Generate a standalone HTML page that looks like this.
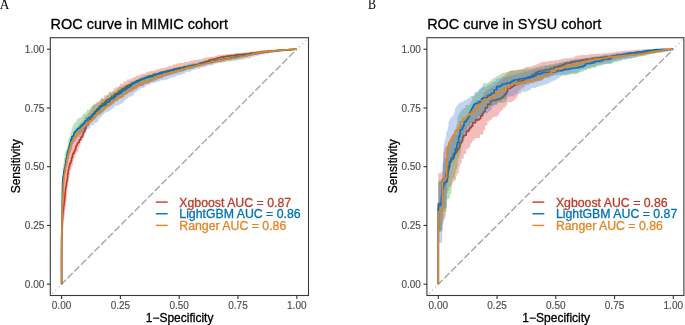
<!DOCTYPE html>
<html><head><meta charset="utf-8"><title>ROC curves</title><style>html,body{margin:0;padding:0;background:#fff;overflow:hidden}svg{display:block;will-change:transform}</style></head><body>
<svg width="685" height="325" viewBox="0 0 685 325">
<style>text{font-family:"Liberation Sans",sans-serif}.tk{font-size:10px;fill:#4d4d4d;stroke:#4d4d4d;stroke-width:0.15}.ti{font-size:14.45px;fill:#000;stroke:#000;stroke-width:0.3}.al{font-size:12px;fill:#000;stroke:#000;stroke-width:0.3}.lg{font-size:12.3px;stroke-width:0.3}.pl{font-family:"Liberation Serif",serif;font-size:13px;fill:#000}</style>
<rect width="685" height="325" fill="#fff"/>
<line x1="59.40" y1="286.40" x2="50.3" y2="295.5" stroke="#ababab" stroke-width="1.1" stroke-dasharray="1.1 3.4"/>
<line x1="299.00" y1="47.00" x2="308.5" y2="37.7" stroke="#ababab" stroke-width="1.1" stroke-dasharray="1.1 3.4"/>
<line x1="61.6" y1="284.2" x2="296.8" y2="49.19999999999999" stroke="#a6a6a6" stroke-width="1.4" stroke-dasharray="7.1 2.38" stroke-dashoffset="0.9"/>
<path d="M61.60,284.20 L61.59,282.20 L61.58,280.20 L61.57,278.20 L61.57,276.20 L61.56,274.20 L61.55,272.20 L61.54,270.20 L61.53,268.20 L61.53,266.20 L61.52,264.20 L61.51,262.20 L61.50,260.20 L61.50,258.20 L61.49,256.20 L61.49,254.20 L61.49,252.20 L61.49,250.20 L61.49,248.20 L61.49,246.20 L61.50,244.20 L61.50,242.20 L61.50,240.20 L61.53,238.20 L61.56,236.20 L61.58,234.20 L61.61,232.20 L61.64,230.20 L61.70,228.20 L61.75,226.20 L61.81,224.20 L61.87,222.20 L61.93,220.21 L62.00,218.21 L62.06,216.21 L62.12,214.21 L62.19,212.21 L62.25,210.21 L62.31,208.21 L62.38,206.21 L62.45,204.21 L62.52,202.22 L62.59,200.22 L62.67,198.22 L62.75,196.22 L62.83,194.22 L62.92,192.22 L63.00,190.22 L63.10,188.23 L63.20,186.23 L63.31,184.23 L63.45,182.24 L63.58,180.24 L63.76,180.24 L63.76,178.25 L63.76,176.26 L63.94,176.26 L64.13,176.26 L64.13,174.27 L64.13,172.28 L64.34,172.28 L64.34,170.29 L64.55,170.29 L64.79,170.29 L64.79,168.30 L64.79,166.32 L65.04,166.32 L65.04,164.34 L65.29,164.34 L65.29,162.36 L65.57,162.36 L65.57,160.37 L65.85,160.37 L66.16,160.37 L66.16,158.40 L66.16,156.42 L66.48,156.42 L66.48,154.46 L66.84,154.46 L66.84,152.49 L67.21,152.49 L67.21,150.54 L67.64,150.54 L68.09,150.54 L68.09,148.59 L68.63,148.59 L68.63,146.67 L68.63,144.76 L69.22,144.76 L69.85,144.76 L69.85,142.86 L69.85,140.98 L70.53,140.98 L71.25,140.98 L71.25,139.11 L71.25,137.26 L72.00,137.26 L72.83,137.26 L72.83,135.44 L72.83,133.64 L73.70,133.64 L74.69,133.64 L74.69,131.90 L75.77,131.90 L75.77,130.22 L75.77,128.57 L76.90,128.57 L76.90,126.93 L78.05,126.93 L78.05,125.32 L79.24,125.32 L79.24,123.73 L80.44,123.73 L80.44,122.14 L81.66,122.14 L82.86,122.14 L82.86,120.54 L84.05,120.54 L84.05,118.93 L84.05,117.26 L85.15,117.26 L85.15,115.59 L86.25,115.59 L87.33,115.59 L87.33,113.90 L88.43,113.90 L88.43,112.24 L89.58,112.24 L89.58,110.60 L90.82,110.60 L90.82,109.03 L92.11,109.03 L92.11,107.50 L92.11,106.05 L93.48,106.05 L93.48,104.62 L94.88,104.62 L96.30,104.62 L96.30,103.21 L96.30,101.85 L97.77,101.85 L99.30,101.85 L99.30,100.57 L100.84,100.57 L100.84,99.30 L100.84,98.02 L102.38,98.02 L103.93,98.02 L103.93,96.75 L103.93,95.49 L105.48,95.49 L107.05,95.49 L107.05,94.25 L108.63,94.25 L108.63,93.03 L108.63,91.84 L110.24,91.84 L111.88,91.84 L111.88,90.69 L113.52,90.69 L113.52,89.54 L113.52,88.39 L115.15,88.39 L115.15,87.21 L116.77,87.21 L118.38,87.21 L118.38,86.03 L120.00,86.03 L120.00,84.86 L120.00,83.74 L121.66,83.74 L123.34,83.74 L123.34,82.66 L123.34,81.61 L125.04,81.61 L126.77,81.61 L126.77,80.59 L126.77,79.61 L128.51,79.61 L130.27,79.61 L130.27,78.67 L132.06,78.67 L132.06,77.78 L133.89,77.78 L133.89,76.96 L135.74,76.96 L135.74,76.20 L135.74,75.49 L137.61,75.49 L139.50,75.49 L139.50,74.85 L141.42,74.85 L141.42,74.28 L141.42,73.70 L143.33,73.70 L145.25,73.70 L145.25,73.12 L145.25,72.50 L147.15,72.50 L147.15,71.87 L149.05,71.87 L149.05,71.25 L150.95,71.25 L150.95,70.65 L152.86,70.65 L154.77,70.65 L154.77,70.07 L154.77,69.55 L156.70,69.55 L158.63,69.55 L158.63,69.04 L160.58,69.04 L160.58,68.57 L160.58,68.09 L162.52,68.09 L164.46,68.09 L164.46,67.59 L166.39,67.59 L166.39,67.09 L168.31,67.09 L168.31,66.53 L168.31,65.96 L170.23,65.96 L172.14,65.96 L172.14,65.38 L172.14,64.82 L174.06,64.82 L174.06,64.28 L175.99,64.28 L175.99,63.78 L177.93,63.78 L177.93,63.32 L179.87,63.32 L179.87,62.89 L181.82,62.89 L183.78,62.89 L183.78,62.47 L183.78,62.07 L185.74,62.07 L187.70,62.07 L187.70,61.66 L189.66,61.66 L189.66,61.27 L189.66,60.87 L191.62,60.87 L191.62,60.48 L193.58,60.48 L193.58,60.10 L195.54,60.10 L197.50,60.10 L197.50,59.70 L197.50,59.30 L199.46,59.30 L201.42,59.30 L201.42,58.87 L201.42,58.44 L203.37,58.44 L203.37,58.01 L205.32,58.01 L205.32,57.58 L207.28,57.58 L207.28,57.16 L209.23,57.16 L209.23,56.77 L211.19,56.77 L213.16,56.77 L213.16,56.39 L215.12,56.39 L215.12,56.03 L217.09,56.03 L217.09,55.68 L217.09,55.36 L219.07,55.36 L219.07,55.04 L221.04,55.04 L221.04,54.74 L223.02,54.74 L225.00,54.74 L225.00,54.46 L225.00,54.18 L226.98,54.18 L228.96,54.18 L228.96,53.93 L230.95,53.93 L230.95,53.70 L230.95,53.48 L232.94,53.48 L234.93,53.48 L234.93,53.28 L234.93,53.09 L236.92,53.09 L238.91,53.09 L238.91,52.90 L240.90,52.90 L240.90,52.71 L242.89,52.71 L242.89,52.52 L244.88,52.52 L244.88,52.32 L244.88,52.13 L246.87,52.13 L248.86,52.13 L248.86,51.92 L248.86,51.69 L250.85,51.69 L250.85,51.45 L252.83,51.45 L252.83,51.19 L254.82,51.19 L256.80,51.19 L256.80,50.94 L258.79,50.94 L258.79,50.73 L260.78,50.73 L260.78,50.53 L260.78,50.37 L262.77,50.37 L264.77,50.37 L264.77,50.20 L266.76,50.06 L268.76,49.92 L270.75,49.81 L272.75,49.71 L274.75,49.61 L276.75,49.56 L278.75,49.50 L280.75,49.45 L282.75,49.40 L284.75,49.37 L286.75,49.34 L288.75,49.31 L290.74,49.28 L292.74,49.26 L294.74,49.23 L296.74,49.20 L296.80,49.20 L296.80,49.40 L295.30,49.40 L295.30,49.56 L293.31,49.56 L293.31,49.77 L293.31,49.98 L291.32,49.98 L291.32,50.20 L289.34,50.20 L289.34,50.41 L287.35,50.41 L285.36,50.41 L285.36,50.63 L285.36,50.84 L283.37,50.84 L283.37,51.06 L281.38,51.06 L281.38,51.29 L279.40,51.29 L277.41,51.29 L277.41,51.52 L277.41,51.75 L275.42,51.75 L273.44,51.75 L273.44,52.01 L271.46,52.01 L271.46,52.28 L269.47,52.28 L269.47,52.54 L269.47,52.84 L267.50,52.84 L265.52,52.84 L265.52,53.13 L265.52,53.44 L263.54,53.44 L261.57,53.44 L261.57,53.75 L261.57,54.07 L259.59,54.07 L259.59,54.40 L257.62,54.40 L255.65,54.40 L255.65,54.74 L253.68,54.74 L253.68,55.10 L253.68,55.47 L251.72,55.47 L249.75,55.47 L249.75,55.85 L247.79,55.85 L247.79,56.24 L247.79,56.63 L245.83,56.63 L245.83,57.04 L243.87,57.04 L243.87,57.43 L241.91,57.43 L239.95,57.43 L239.95,57.81 L239.95,58.15 L237.98,58.15 L237.98,58.49 L236.00,58.49 L236.00,58.81 L234.03,58.81 L232.06,58.81 L232.06,59.14 L230.09,59.14 L230.09,59.48 L230.09,59.86 L228.12,59.86 L226.16,59.86 L226.16,60.24 L226.16,60.63 L224.20,60.63 L222.24,60.63 L222.24,61.03 L222.24,61.44 L220.28,61.44 L220.28,61.85 L218.32,61.85 L216.37,61.85 L216.37,62.27 L214.41,62.27 L214.41,62.69 L212.46,62.69 L212.46,63.13 L212.46,63.58 L210.51,63.58 L208.57,63.58 L208.57,64.06 L206.63,64.06 L206.63,64.54 L204.70,64.54 L204.70,65.05 L202.76,65.05 L202.76,65.56 L202.76,66.08 L200.83,66.08 L200.83,66.59 L198.90,66.59 L198.90,67.10 L196.96,67.10 L195.03,67.10 L195.03,67.62 L195.03,68.14 L193.10,68.14 L193.10,68.67 L191.17,68.67 L189.25,68.67 L189.25,69.22 L187.33,69.22 L187.33,69.78 L185.41,69.78 L185.41,70.36 L185.41,70.94 L183.50,70.94 L183.50,71.52 L181.59,71.52 L179.67,71.52 L179.67,72.10 L179.67,72.66 L177.75,72.66 L177.75,73.23 L175.84,73.23 L173.92,73.23 L173.92,73.79 L173.92,74.38 L172.00,74.38 L172.00,74.97 L170.09,74.97 L170.09,75.60 L168.20,75.60 L166.30,75.60 L166.30,76.24 L164.41,76.24 L164.41,76.90 L162.53,76.90 L162.53,77.57 L162.53,78.26 L160.65,78.26 L160.65,78.97 L158.78,78.97 L156.91,78.97 L156.91,79.68 L156.91,80.42 L155.06,80.42 L153.20,80.42 L153.20,81.17 L153.20,81.94 L151.35,81.94 L149.51,81.94 L149.51,82.71 L149.51,83.50 L147.67,83.50 L147.67,84.29 L145.84,84.29 L144.01,84.29 L144.01,85.11 L144.01,85.95 L142.20,85.95 L140.39,85.95 L140.39,86.81 L138.61,86.81 L138.61,87.73 L136.84,87.73 L136.84,88.65 L136.84,89.62 L135.09,89.62 L135.09,90.59 L133.34,90.59 L133.34,91.58 L131.60,91.58 L131.60,92.58 L129.87,92.58 L128.14,92.58 L128.14,93.58 L126.41,93.58 L126.41,94.58 L124.69,94.58 L124.69,95.60 L124.69,96.63 L122.97,96.63 L122.97,97.70 L121.28,97.70 L121.28,98.77 L119.59,98.77 L117.94,98.77 L117.94,99.89 L117.94,101.02 L116.28,101.02 L114.65,101.02 L114.65,102.17 L114.65,103.33 L113.02,103.33 L113.02,104.50 L111.39,104.50 L111.39,105.67 L109.77,105.67 L109.77,106.85 L108.16,106.85 L106.55,106.85 L106.55,108.04 L104.96,108.04 L104.96,109.24 L103.36,109.24 L103.36,110.46 L103.36,111.67 L101.78,111.67 L101.78,112.89 L100.19,112.89 L100.19,114.13 L98.62,114.13 L97.09,114.13 L97.09,115.42 L95.62,115.42 L95.62,116.77 L95.62,118.19 L94.21,118.19 L94.21,119.67 L92.86,119.67 L92.86,121.20 L91.58,121.20 L90.36,121.20 L90.36,122.79 L89.22,122.79 L89.22,124.43 L88.14,124.43 L88.14,126.11 L87.13,126.11 L87.13,127.84 L86.22,127.84 L86.22,129.62 L86.22,131.47 L85.46,131.47 L84.75,131.47 L84.75,133.34 L84.75,135.20 L84.02,135.20 L84.02,137.05 L83.27,137.05 L83.27,138.91 L82.53,138.91 L82.53,140.78 L81.82,140.78 L81.11,140.78 L81.11,142.65 L80.39,142.65 L80.39,144.51 L80.39,146.38 L79.66,146.38 L78.92,146.38 L78.92,148.24 L78.17,148.24 L78.17,150.09 L78.17,151.94 L77.41,151.94 L76.63,151.94 L76.63,153.78 L75.85,153.78 L75.85,155.62 L75.09,155.62 L75.09,157.47 L74.35,157.47 L74.35,159.33 L73.64,159.33 L73.64,161.20 L72.95,161.20 L72.95,163.08 L72.95,164.96 L72.28,164.96 L72.28,166.87 L71.69,166.87 L71.69,168.79 L71.13,168.79 L71.13,170.74 L70.67,170.74 L70.23,170.74 L70.23,172.69 L69.85,172.69 L69.85,174.65 L69.85,176.62 L69.48,176.62 L69.48,178.59 L69.14,178.59 L69.14,180.56 L68.81,180.56 L68.81,182.54 L68.52,182.54 L68.52,184.52 L68.22,184.52 L68.22,186.50 L67.96,186.50 L67.69,186.50 L67.69,188.48 L67.44,188.48 L67.44,190.47 L67.44,192.45 L67.19,192.45 L67.19,194.44 L66.95,194.44 L66.95,196.42 L66.72,196.42 L66.72,198.41 L66.48,198.41 L66.48,200.40 L66.26,200.40 L66.26,202.38 L66.04,202.38 L66.04,204.37 L65.82,204.37 L65.60,204.37 L65.60,206.36 L65.60,208.35 L65.38,208.35 L65.38,210.34 L65.16,210.34 L64.91,210.34 L64.91,212.32 L64.91,214.31 L64.66,214.31 L64.66,216.29 L64.41,216.29 L64.41,218.27 L64.16,218.27 L64.16,220.26 L63.94,220.26 L63.76,220.26 L63.76,222.25 L63.76,224.24 L63.57,224.24 L63.57,226.24 L63.42,226.24 L63.28,228.23 L63.15,230.23 L63.01,232.22 L62.91,234.22 L62.80,236.22 L62.69,238.22 L62.59,240.21 L62.50,242.21 L62.43,244.21 L62.35,246.21 L62.27,248.21 L62.20,250.21 L62.15,252.20 L62.10,254.20 L62.06,256.20 L62.01,258.20 L61.97,260.20 L61.92,262.20 L61.89,264.20 L61.86,266.20 L61.83,268.20 L61.80,270.20 L61.77,272.20 L61.74,274.20 L61.71,276.20 L61.68,278.20 L61.66,280.20 L61.63,282.20 L61.60,284.20 Z" fill="#DE2020" fill-opacity="0.3" stroke="none"/>
<path d="M61.60,284.20 L61.60,282.70 L61.60,281.20 L61.60,279.70 L61.60,278.20 L61.59,276.70 L61.59,275.20 L61.59,273.70 L61.59,272.20 L61.59,270.70 L61.59,269.20 L61.59,267.70 L61.59,266.20 L61.59,264.70 L61.59,263.20 L61.59,261.70 L61.59,260.20 L61.59,258.70 L61.59,257.20 L61.59,255.70 L61.59,254.20 L61.60,252.70 L61.60,251.20 L61.60,249.70 L61.61,248.20 L61.61,246.70 L61.62,245.20 L61.62,243.70 L61.63,242.20 L61.64,240.70 L61.66,239.20 L61.67,237.70 L61.68,236.20 L61.72,234.70 L61.75,233.20 L61.78,231.70 L61.84,230.20 L61.90,228.70 L61.97,227.21 L62.05,225.71 L62.15,224.21 L62.25,222.71 L62.36,221.22 L62.47,219.72 L62.58,218.23 L62.69,216.73 L62.80,215.23 L62.93,213.74 L63.07,212.25 L63.07,210.75 L63.22,210.75 L63.39,210.75 L63.39,209.26 L63.56,209.26 L63.56,207.77 L63.56,206.28 L63.74,206.28 L63.93,206.28 L63.93,204.80 L64.12,204.80 L64.12,203.31 L64.12,201.82 L64.30,201.82 L64.48,201.82 L64.48,200.33 L64.66,200.33 L64.66,198.84 L64.81,198.84 L64.81,197.35 L64.96,195.86 L65.09,194.36 L65.22,192.87 L65.37,191.37 L65.37,189.88 L65.53,189.88 L65.53,188.39 L65.71,188.39 L65.71,186.91 L65.92,186.91 L66.14,186.91 L66.14,185.43 L66.37,185.43 L66.37,183.94 L66.37,182.46 L66.61,182.46 L66.84,182.46 L66.84,180.98 L67.07,180.98 L67.07,179.50 L67.30,179.50 L67.30,178.02 L67.52,178.02 L67.52,176.53 L67.52,175.05 L67.75,175.05 L67.75,173.57 L67.98,173.57 L68.24,173.57 L68.24,172.09 L68.24,170.62 L68.53,170.62 L68.53,169.15 L68.85,169.15 L68.85,167.70 L69.20,167.70 L69.20,166.24 L69.57,166.24 L69.57,164.79 L69.96,164.79 L69.96,163.35 L70.35,163.35 L70.75,163.35 L70.75,161.90 L71.17,161.90 L71.17,160.46 L71.59,160.46 L71.59,159.02 L71.59,157.59 L72.04,157.59 L72.50,157.59 L72.50,156.16 L72.50,154.73 L72.96,154.73 L72.96,153.31 L73.45,153.31 L74.00,153.31 L74.00,151.92 L74.57,151.92 L74.57,150.53 L75.19,150.53 L75.19,149.17 L75.83,149.17 L75.83,147.81 L75.83,146.46 L76.49,146.46 L76.49,145.12 L77.15,145.12 L77.15,143.78 L77.84,143.78 L77.84,142.45 L78.53,142.45 L79.25,142.45 L79.25,141.14 L79.25,139.83 L79.99,139.83 L80.74,139.83 L80.74,138.54 L80.74,137.24 L81.49,137.24 L82.24,137.24 L82.24,135.93 L82.93,135.93 L82.93,134.60 L82.93,133.25 L83.57,133.25 L83.57,131.87 L84.18,131.87 L84.74,131.87 L84.74,130.49 L84.74,129.09 L85.30,129.09 L85.90,129.09 L85.90,127.72 L85.90,126.38 L86.58,126.38 L86.58,125.06 L87.28,125.06 L88.01,125.06 L88.01,123.75 L88.75,123.75 L88.75,122.44 L88.75,121.14 L89.49,121.14 L89.49,119.83 L90.23,119.83 L90.23,118.53 L90.98,118.53 L91.74,118.53 L91.74,117.24 L92.53,117.24 L92.53,115.96 L92.53,114.71 L93.36,114.71 L93.36,113.49 L94.23,113.49 L94.23,112.31 L95.15,112.31 L95.15,111.15 L96.11,111.15 L97.09,111.15 L97.09,110.02 L97.09,108.90 L98.09,108.90 L99.11,108.90 L99.11,107.80 L99.11,106.71 L100.13,106.71 L100.13,105.63 L101.18,105.63 L102.25,105.63 L102.25,104.58 L102.25,103.58 L103.37,103.58 L104.53,103.58 L104.53,102.63 L104.53,101.72 L105.72,101.72 L105.72,100.81 L106.92,100.81 L106.92,99.91 L108.12,99.91 L108.12,99.01 L109.31,99.01 L110.51,99.01 L110.51,98.11 L111.71,98.11 L111.71,97.21 L111.71,96.31 L112.91,96.31 L114.11,96.31 L114.11,95.41 L114.11,94.50 L115.30,94.50 L115.30,93.58 L116.49,93.58 L117.68,93.58 L117.68,92.67 L118.90,92.67 L118.90,91.79 L118.90,90.92 L120.12,90.92 L121.37,90.92 L121.37,90.09 L121.37,89.27 L122.62,89.27 L122.62,88.47 L123.89,88.47 L125.16,88.47 L125.16,87.67 L125.16,86.91 L126.45,86.91 L126.45,86.15 L127.75,86.15 L127.75,85.43 L129.06,85.43 L129.06,84.72 L130.39,84.72 L131.73,84.72 L131.73,84.05 L131.73,83.39 L133.07,83.39 L134.43,83.39 L134.43,82.74 L134.43,82.10 L135.78,82.10 L135.78,81.47 L137.15,81.47 L138.51,81.47 L138.51,80.85 L138.51,80.25 L139.88,80.25 L141.26,80.25 L141.26,79.64 L142.64,79.64 L142.64,79.07 L142.64,78.49 L144.03,78.49 L144.03,77.94 L145.42,77.94 L146.82,77.94 L146.82,77.39 L148.22,77.39 L148.22,76.86 L148.22,76.34 L149.63,76.34 L149.63,75.84 L151.04,75.84 L152.46,75.84 L152.46,75.35 L153.88,75.35 L153.88,74.87 L153.88,74.41 L155.31,74.41 L156.74,74.41 L156.74,73.96 L158.17,73.96 L158.17,73.53 L159.62,73.53 L159.62,73.11 L159.62,72.72 L161.06,72.72 L161.06,72.34 L162.52,72.34 L162.52,71.97 L163.97,71.97 L165.43,71.97 L165.43,71.62 L165.43,71.26 L166.88,71.26 L168.34,71.26 L168.34,70.91 L168.34,70.55 L169.80,70.55 L171.25,70.55 L171.25,70.18 L172.70,70.18 L172.70,69.81 L172.70,69.44 L174.16,69.44 L174.16,69.07 L175.61,69.07 L177.07,69.07 L177.07,68.70 L177.07,68.35 L178.53,68.35 L178.53,68.00 L179.98,68.00 L181.45,68.00 L181.45,67.69 L182.92,67.69 L182.92,67.38 L184.39,67.38 L184.39,67.08 L184.39,66.79 L185.86,66.79 L187.33,66.79 L187.33,66.50 L187.33,66.23 L188.81,66.23 L188.81,65.95 L190.28,65.95 L190.28,65.72 L191.76,65.72 L191.76,65.49 L193.24,65.49 L193.24,65.27 L194.73,65.27 L194.73,64.97 L196.20,64.97 L196.20,64.58 L197.65,64.58 L199.07,64.58 L199.07,64.10 L199.07,63.52 L200.45,63.52 L200.45,62.96 L201.84,62.96 L203.24,62.96 L203.24,62.42 L204.65,62.42 L204.65,61.92 L206.07,61.92 L206.07,61.44 L207.50,61.44 L207.50,60.97 L208.93,60.97 L208.93,60.53 L208.93,60.09 L210.37,60.09 L210.37,59.68 L211.81,59.68 L211.81,59.27 L213.25,59.27 L214.70,59.27 L214.70,58.88 L216.15,58.88 L216.15,58.50 L217.61,58.50 L217.61,58.14 L217.61,57.79 L219.07,57.79 L220.53,57.79 L220.53,57.47 L220.53,57.16 L222.00,57.16 L223.47,57.16 L223.47,56.88 L223.47,56.61 L224.95,56.61 L226.43,56.61 L226.43,56.35 L226.43,56.10 L227.91,56.10 L229.39,56.10 L229.39,55.87 L230.87,55.87 L230.87,55.65 L232.36,55.65 L232.36,55.45 L233.85,55.45 L233.85,55.26 L235.33,55.26 L235.33,55.08 L236.82,55.08 L236.82,54.90 L238.31,54.90 L238.31,54.73 L238.31,54.57 L239.81,54.57 L241.30,54.57 L241.30,54.41 L242.79,54.41 L242.79,54.26 L244.28,54.26 L244.28,54.10 L244.28,53.93 L245.77,53.93 L247.26,53.93 L247.26,53.77 L248.75,53.77 L248.75,53.59 L250.24,53.59 L250.24,53.40 L251.73,53.40 L251.73,53.22 L251.73,53.03 L253.22,53.03 L254.71,53.03 L254.71,52.84 L256.19,52.84 L256.19,52.66 L256.19,52.48 L257.68,52.48 L259.17,52.48 L259.17,52.30 L260.66,52.30 L260.66,52.12 L262.15,52.12 L262.15,51.95 L263.64,51.95 L263.64,51.77 L263.64,51.60 L265.13,51.60 L266.62,51.60 L266.62,51.43 L268.11,51.43 L268.11,51.27 L268.11,51.10 L269.60,51.10 L271.10,50.96 L272.59,50.82 L274.08,50.69 L275.58,50.56 L277.08,50.45 L278.57,50.35 L280.07,50.24 L281.56,50.14 L283.06,50.04 L284.56,49.94 L286.06,49.85 L287.55,49.76 L289.05,49.67 L290.55,49.58 L292.04,49.49 L293.54,49.40 L295.04,49.31 L296.54,49.22 L296.80,49.20" fill="none" stroke="#BC3C29" stroke-width="1.6" stroke-linejoin="round"/>
<path d="M61.60,284.20 L61.58,282.20 L61.56,280.20 L61.54,278.20 L61.52,276.20 L61.50,274.20 L61.48,272.20 L61.46,270.20 L61.44,268.20 L61.42,266.20 L61.40,264.20 L61.38,262.20 L61.36,260.20 L61.34,258.20 L61.32,256.20 L61.31,254.20 L61.29,252.20 L61.28,250.20 L61.26,248.20 L61.25,246.20 L61.23,244.20 L61.22,242.20 L61.20,240.20 L61.20,238.20 L61.20,236.20 L61.19,234.20 L61.19,232.20 L61.19,230.20 L61.20,228.20 L61.21,226.20 L61.22,224.20 L61.23,222.20 L61.25,220.20 L61.27,218.20 L61.29,216.20 L61.31,214.20 L61.33,212.20 L61.35,210.20 L61.38,208.20 L61.41,206.20 L61.44,204.20 L61.47,202.20 L61.50,200.20 L61.54,198.20 L61.58,196.20 L61.62,194.20 L61.65,192.21 L61.69,190.21 L61.74,188.21 L61.78,186.21 L61.84,184.21 L61.91,182.21 L61.99,180.21 L62.12,178.21 L62.26,176.22 L62.26,174.23 L62.46,174.23 L62.66,174.23 L62.66,172.24 L62.87,172.24 L62.87,170.25 L62.87,168.26 L63.07,168.26 L63.27,168.26 L63.27,166.27 L63.27,164.28 L63.47,164.28 L63.68,164.28 L63.68,162.29 L63.93,162.29 L63.93,160.31 L63.93,158.33 L64.22,158.33 L64.56,158.33 L64.56,156.36 L64.56,154.41 L65.00,154.41 L65.00,152.47 L65.48,152.47 L65.48,150.54 L66.02,150.54 L66.02,148.63 L66.62,148.63 L66.62,146.72 L67.19,146.72 L67.66,146.72 L67.66,144.77 L68.05,144.77 L68.05,142.81 L68.05,140.85 L68.43,140.85 L68.43,138.90 L68.90,138.90 L69.50,138.90 L69.50,137.00 L69.96,137.00 L69.96,135.05 L70.41,135.05 L70.41,133.10 L70.95,133.10 L70.95,131.18 L71.72,131.18 L71.72,129.34 L71.72,127.58 L72.68,127.58 L72.68,125.80 L73.59,125.80 L73.59,124.02 L74.49,124.02 L74.49,122.29 L75.50,122.29 L76.71,122.29 L76.71,120.70 L76.71,119.26 L78.09,119.26 L78.09,117.89 L79.55,117.89 L80.99,117.89 L80.99,116.50 L82.39,116.50 L82.39,115.08 L82.39,113.67 L83.81,113.67 L85.27,113.67 L85.27,112.30 L86.76,112.30 L86.76,110.97 L86.76,109.68 L88.29,109.68 L89.84,109.68 L89.84,108.41 L89.84,107.17 L91.40,107.17 L91.40,105.96 L92.99,105.96 L92.99,104.77 L94.61,104.77 L94.61,103.61 L96.23,103.61 L97.87,103.61 L97.87,102.46 L99.50,102.46 L99.50,101.31 L99.50,100.17 L101.15,100.17 L101.15,99.04 L102.80,99.04 L104.44,99.04 L104.44,97.89 L106.06,97.89 L106.06,96.73 L106.06,95.56 L107.69,95.56 L109.30,95.56 L109.30,94.38 L109.30,93.24 L110.94,93.24 L112.59,93.24 L112.59,92.11 L114.27,92.11 L114.27,91.02 L115.96,91.02 L115.96,89.95 L117.66,89.95 L117.66,88.90 L117.66,87.87 L119.38,87.87 L119.38,86.86 L121.11,86.86 L122.84,86.86 L122.84,85.87 L124.58,85.87 L124.58,84.89 L126.33,84.89 L126.33,83.92 L128.10,83.92 L128.10,82.99 L129.88,82.99 L129.88,82.06 L129.88,81.19 L131.68,81.19 L133.48,81.19 L133.48,80.32 L135.30,80.32 L135.30,79.50 L137.13,79.50 L137.13,78.70 L138.98,78.70 L138.98,77.93 L138.98,77.18 L140.83,77.18 L142.70,77.18 L142.70,76.46 L142.70,75.79 L144.58,75.79 L144.58,75.12 L146.47,75.12 L148.37,75.12 L148.37,74.51 L150.28,74.51 L150.28,73.92 L150.28,73.40 L152.21,73.40 L152.21,72.90 L154.15,72.90 L154.15,72.43 L156.10,72.43 L158.04,72.43 L158.04,71.97 L158.04,71.50 L159.99,71.50 L159.99,71.02 L161.93,71.02 L163.87,71.02 L163.87,70.53 L163.87,70.05 L165.81,70.05 L165.81,69.56 L167.75,69.56 L169.69,69.56 L169.69,69.08 L169.69,68.59 L171.63,68.59 L173.57,68.59 L173.57,68.11 L173.57,67.62 L175.51,67.62 L177.45,67.62 L177.45,67.14 L179.39,67.14 L179.39,66.65 L179.39,66.16 L181.33,66.16 L183.27,66.16 L183.27,65.67 L183.27,65.18 L185.21,65.18 L187.15,65.18 L187.15,64.69 L187.15,64.22 L189.09,64.22 L189.09,63.77 L191.04,63.77 L192.99,63.77 L192.99,63.33 L192.99,62.90 L194.94,62.90 L196.90,62.90 L196.90,62.48 L198.85,62.48 L198.85,62.05 L198.85,61.61 L200.80,61.61 L200.80,61.16 L202.75,61.16 L204.70,61.16 L204.70,60.71 L204.70,60.25 L206.65,60.25 L208.60,60.25 L208.60,59.81 L210.55,59.81 L210.55,59.38 L212.51,59.38 L212.51,58.97 L214.47,58.97 L214.47,58.57 L216.43,58.57 L216.43,58.18 L216.43,57.81 L218.39,57.81 L218.39,57.44 L220.36,57.44 L220.36,57.08 L222.33,57.08 L222.33,56.74 L224.30,56.74 L226.27,56.74 L226.27,56.41 L226.27,56.09 L228.24,56.09 L228.24,55.77 L230.22,55.77 L230.22,55.46 L232.19,55.46 L234.17,55.46 L234.17,55.16 L236.15,55.16 L236.15,54.87 L238.13,54.87 L238.13,54.58 L238.13,54.28 L240.11,54.28 L240.11,53.99 L242.08,53.99 L244.06,53.99 L244.06,53.69 L244.06,53.39 L246.04,53.39 L246.04,53.10 L248.02,53.10 L250.00,53.10 L250.00,52.80 L250.00,52.48 L251.97,52.48 L253.94,52.48 L253.94,52.16 L255.92,52.16 L255.92,51.85 L255.92,51.57 L257.90,51.57 L257.90,51.32 L259.88,51.32 L261.87,51.32 L261.87,51.10 L263.86,51.10 L263.86,50.89 L263.86,50.70 L265.85,50.70 L265.85,50.52 L267.84,50.52 L267.84,50.35 L269.84,50.35 L271.83,50.22 L273.83,50.08 L275.82,49.96 L277.82,49.88 L279.82,49.79 L281.82,49.70 L283.82,49.63 L285.82,49.56 L287.81,49.49 L289.81,49.43 L291.81,49.36 L293.81,49.30 L295.81,49.23 L296.80,49.20 L296.80,49.40 L295.93,49.49 L293.94,49.49 L293.94,49.70 L293.94,49.92 L291.95,49.92 L289.96,49.92 L289.96,50.13 L289.96,50.34 L287.98,50.34 L285.99,50.34 L285.99,50.56 L285.99,50.77 L284.00,50.77 L284.00,50.99 L282.01,50.99 L282.01,51.22 L280.02,51.22 L280.02,51.45 L278.04,51.45 L276.05,51.45 L276.05,51.68 L274.07,51.68 L274.07,51.92 L272.08,51.92 L272.08,52.19 L272.08,52.45 L270.10,52.45 L268.12,52.45 L268.12,52.73 L266.14,52.73 L266.14,53.03 L264.16,53.03 L264.16,53.32 L262.19,53.32 L262.19,53.64 L262.19,53.96 L260.22,53.96 L260.22,54.32 L258.25,54.32 L258.25,54.68 L256.28,54.68 L256.28,55.09 L254.32,55.09 L252.37,55.09 L252.37,55.50 L250.41,55.50 L250.41,55.91 L250.41,56.31 L248.45,56.31 L246.49,56.31 L246.49,56.70 L246.49,57.09 L244.53,57.09 L242.56,57.09 L242.56,57.49 L240.60,57.49 L240.60,57.88 L240.60,58.27 L238.64,58.27 L238.64,58.66 L236.68,58.66 L234.72,58.66 L234.72,59.06 L234.72,59.45 L232.76,59.45 L232.76,59.84 L230.80,59.84 L230.80,60.23 L228.84,60.23 L226.88,60.23 L226.88,60.62 L224.91,60.62 L224.91,61.02 L224.91,61.41 L222.95,61.41 L222.95,61.80 L220.99,61.80 L219.03,61.80 L219.03,62.19 L219.03,62.57 L217.07,62.57 L215.10,62.57 L215.10,62.95 L213.14,62.95 L213.14,63.34 L213.14,63.75 L211.18,63.75 L211.18,64.18 L209.23,64.18 L207.29,64.18 L207.29,64.65 L205.35,64.65 L205.35,65.13 L203.41,65.13 L203.41,65.63 L201.47,65.63 L201.47,66.12 L199.53,66.12 L199.53,66.61 L197.59,66.61 L197.59,67.09 L197.59,67.56 L195.65,67.56 L193.70,67.56 L193.70,68.04 L193.70,68.54 L191.77,68.54 L191.77,69.05 L189.83,69.05 L189.83,69.60 L187.91,69.60 L185.99,69.60 L185.99,70.17 L184.08,70.17 L184.08,70.75 L184.08,71.34 L182.17,71.34 L182.17,71.92 L180.26,71.92 L178.34,71.92 L178.34,72.49 L176.42,72.49 L176.42,73.05 L176.42,73.62 L174.50,73.62 L172.59,73.62 L172.59,74.20 L170.68,74.20 L170.68,74.79 L168.78,74.79 L168.78,75.41 L168.78,76.06 L166.88,76.06 L165.00,76.06 L165.00,76.72 L163.11,76.72 L163.11,77.39 L163.11,78.06 L161.23,78.06 L159.34,78.06 L159.34,78.73 L157.45,78.73 L157.45,79.38 L155.56,79.38 L155.56,80.03 L155.56,80.68 L153.67,80.68 L151.78,80.68 L151.78,81.36 L151.78,82.04 L149.90,82.04 L149.90,82.74 L148.03,82.74 L146.17,82.74 L146.17,83.46 L144.30,83.46 L144.30,84.19 L144.30,84.95 L142.45,84.95 L142.45,85.74 L140.62,85.74 L138.79,85.74 L138.79,86.56 L136.98,86.56 L136.98,87.39 L136.98,88.27 L135.18,88.27 L133.39,88.27 L133.39,89.16 L133.39,90.11 L131.63,90.11 L131.63,91.08 L129.88,91.08 L128.17,91.08 L128.17,92.12 L128.17,93.16 L126.46,93.16 L124.79,93.16 L124.79,94.26 L123.12,94.26 L123.12,95.36 L121.47,95.36 L121.47,96.49 L121.47,97.63 L119.82,97.63 L118.19,97.63 L118.19,98.78 L118.19,99.96 L116.57,99.96 L116.57,101.16 L114.97,101.16 L113.40,101.16 L113.40,102.39 L111.84,102.39 L111.84,103.64 L111.84,104.93 L110.31,104.93 L110.31,106.24 L108.80,106.24 L107.30,106.24 L107.30,107.57 L107.30,108.90 L105.81,108.90 L105.81,110.22 L104.31,110.22 L104.31,111.53 L102.80,111.53 L102.80,112.83 L101.28,112.83 L101.28,114.13 L99.76,114.13 L99.76,115.43 L98.24,115.43 L96.73,115.43 L96.73,116.74 L95.23,116.74 L95.23,118.06 L95.23,119.40 L93.74,119.40 L92.27,119.40 L92.27,120.75 L90.84,120.75 L90.84,122.15 L90.84,123.58 L89.44,123.58 L88.01,123.58 L88.01,124.99 L88.01,126.30 L86.50,126.30 L86.50,127.59 L84.98,127.59 L84.98,128.97 L83.54,128.97 L82.15,128.97 L82.15,130.41 L82.15,131.88 L80.79,131.88 L80.79,133.41 L79.50,133.41 L78.27,133.41 L78.27,134.99 L77.12,134.99 L77.12,136.62 L76.03,136.62 L76.03,138.29 L75.00,138.29 L75.00,140.01 L74.03,140.01 L74.03,141.76 L73.12,141.76 L73.12,143.54 L72.25,143.54 L72.25,145.34 L71.43,145.34 L71.43,147.17 L71.43,149.02 L70.68,149.02 L70.68,150.90 L70.00,150.90 L69.38,150.90 L69.38,152.80 L69.38,154.72 L68.80,154.72 L68.80,156.64 L68.27,156.64 L68.27,158.58 L67.79,158.58 L67.79,160.53 L67.33,160.53 L66.90,160.53 L66.90,162.48 L66.90,164.44 L66.49,164.44 L66.13,164.44 L66.13,166.41 L65.78,166.41 L65.78,168.38 L65.78,170.35 L65.44,170.35 L65.09,170.35 L65.09,172.32 L64.76,172.32 L64.76,174.29 L64.76,176.27 L64.44,176.27 L64.21,176.27 L64.21,178.25 L63.98,178.25 L63.98,180.24 L63.83,180.24 L63.83,182.23 L63.68,182.23 L63.68,184.23 L63.58,186.22 L63.48,188.22 L63.39,190.22 L63.31,192.22 L63.23,194.22 L63.16,196.22 L63.09,198.21 L63.03,200.21 L62.96,202.21 L62.90,204.21 L62.85,206.21 L62.79,208.21 L62.73,210.21 L62.68,212.21 L62.64,214.21 L62.59,216.21 L62.54,218.21 L62.50,220.21 L62.46,222.21 L62.42,224.21 L62.38,226.21 L62.34,228.21 L62.30,230.20 L62.27,232.20 L62.24,234.20 L62.21,236.20 L62.17,238.20 L62.14,240.20 L62.11,242.20 L62.08,244.20 L62.05,246.20 L62.03,248.20 L62.00,250.20 L61.97,252.20 L61.95,254.20 L61.92,256.20 L61.90,258.20 L61.87,260.20 L61.85,262.20 L61.82,264.20 L61.80,266.20 L61.78,268.20 L61.76,270.20 L61.73,272.20 L61.71,274.20 L61.69,276.20 L61.67,278.20 L61.64,280.20 L61.62,282.20 L61.60,284.20 Z" fill="#169B16" fill-opacity="0.3" stroke="none"/>
<path d="M61.60,284.20 L61.60,282.70 L61.60,281.20 L61.59,279.70 L61.59,278.20 L61.59,276.70 L61.59,275.20 L61.59,273.70 L61.59,272.20 L61.59,270.70 L61.58,269.20 L61.58,267.70 L61.58,266.20 L61.58,264.70 L61.58,263.20 L61.58,261.70 L61.58,260.20 L61.58,258.70 L61.59,257.20 L61.59,255.70 L61.59,254.20 L61.59,252.70 L61.60,251.20 L61.60,249.70 L61.61,248.20 L61.63,246.70 L61.64,245.20 L61.65,243.70 L61.66,242.20 L61.68,240.70 L61.70,239.20 L61.72,237.70 L61.74,236.20 L61.76,234.70 L61.78,233.20 L61.80,231.70 L61.82,230.20 L61.84,228.70 L61.87,227.20 L61.89,225.70 L61.91,224.20 L61.94,222.70 L61.97,221.20 L62.00,219.70 L62.03,218.20 L62.06,216.70 L62.10,215.20 L62.13,213.70 L62.16,212.20 L62.19,210.70 L62.21,209.21 L62.23,207.71 L62.26,206.21 L62.28,204.71 L62.30,203.21 L62.32,201.71 L62.34,200.21 L62.36,198.71 L62.39,197.21 L62.41,195.71 L62.43,194.21 L62.46,192.71 L62.48,191.21 L62.50,189.71 L62.52,188.21 L62.55,186.71 L62.57,185.21 L62.60,183.71 L62.64,182.21 L62.73,180.71 L62.84,179.22 L62.84,177.73 L63.03,177.73 L63.24,177.73 L63.24,176.24 L63.51,176.24 L63.51,174.77 L63.79,174.77 L63.79,173.30 L63.79,171.82 L64.08,171.82 L64.08,170.35 L64.36,170.35 L64.36,168.87 L64.64,168.87 L64.64,167.40 L64.92,167.40 L65.21,167.40 L65.21,165.93 L65.21,164.46 L65.49,164.46 L65.76,164.46 L65.76,162.98 L65.76,161.50 L66.02,161.50 L66.02,160.03 L66.27,160.03 L66.27,158.55 L66.53,158.55 L66.80,158.55 L66.80,157.07 L67.09,157.07 L67.09,155.60 L67.09,154.13 L67.40,154.13 L67.40,152.67 L67.73,152.67 L67.73,151.21 L68.07,151.21 L68.42,151.21 L68.42,149.75 L68.77,149.75 L68.77,148.29 L69.11,148.29 L69.11,146.83 L69.46,146.83 L69.46,145.37 L69.83,145.37 L69.83,143.92 L70.26,143.92 L70.26,142.48 L70.73,142.48 L70.73,141.06 L70.73,139.64 L71.22,139.64 L71.78,139.64 L71.78,138.25 L71.78,136.87 L72.37,136.87 L73.04,136.87 L73.04,135.53 L73.81,135.53 L73.81,134.25 L73.81,133.01 L74.66,133.01 L74.66,131.86 L75.63,131.86 L75.63,130.72 L76.60,130.72 L76.60,129.59 L77.59,129.59 L77.59,128.46 L78.57,128.46 L79.56,128.46 L79.56,127.33 L80.56,127.33 L80.56,126.22 L81.60,126.22 L81.60,125.13 L82.65,125.13 L82.65,124.06 L83.73,124.06 L83.73,123.02 L84.83,123.02 L84.83,122.00 L84.83,120.99 L85.93,120.99 L87.05,120.99 L87.05,119.98 L87.05,118.99 L88.17,118.99 L88.17,118.00 L89.30,118.00 L89.30,117.02 L90.43,117.02 L91.57,117.02 L91.57,116.04 L91.57,115.05 L92.69,115.05 L92.69,114.04 L93.81,114.04 L94.91,114.04 L94.91,113.02 L94.91,111.99 L96.00,111.99 L96.00,110.96 L97.09,110.96 L97.09,109.95 L98.20,109.95 L98.20,108.95 L99.32,108.95 L99.32,107.97 L100.45,107.97 L100.45,107.01 L101.60,107.01 L101.60,106.06 L102.76,106.06 L102.76,105.11 L103.92,105.11 L105.09,105.11 L105.09,104.17 L106.26,104.17 L106.26,103.23 L106.26,102.30 L107.44,102.30 L108.62,102.30 L108.62,101.38 L109.80,101.38 L109.80,100.45 L109.80,99.53 L110.98,99.53 L110.98,98.60 L112.16,98.60 L113.35,98.60 L113.35,97.68 L114.53,97.68 L114.53,96.76 L115.73,96.76 L115.73,95.86 L115.73,94.96 L116.94,94.96 L116.94,94.08 L118.15,94.08 L119.37,94.08 L119.37,93.22 L120.60,93.22 L120.60,92.36 L121.84,92.36 L121.84,91.51 L121.84,90.69 L123.10,90.69 L124.36,90.69 L124.36,89.88 L124.36,89.08 L125.63,89.08 L126.89,89.08 L126.89,88.28 L126.89,87.44 L128.14,87.44 L129.32,87.44 L129.32,86.52 L130.47,86.52 L130.47,85.55 L131.58,85.55 L131.58,84.55 L131.58,83.63 L132.77,83.63 L134.03,83.63 L134.03,82.83 L135.36,82.83 L135.36,82.13 L136.72,82.13 L136.72,81.50 L136.72,80.90 L138.09,80.90 L139.48,80.90 L139.48,80.32 L139.48,79.76 L140.87,79.76 L140.87,79.23 L142.27,79.23 L142.27,78.72 L143.68,78.72 L145.10,78.72 L145.10,78.23 L145.10,77.74 L146.52,77.74 L146.52,77.28 L147.95,77.28 L147.95,76.83 L149.38,76.83 L150.82,76.83 L150.82,76.40 L152.26,76.40 L152.26,75.99 L153.70,75.99 L153.70,75.59 L153.70,75.17 L155.14,75.17 L155.14,74.73 L156.58,74.73 L156.58,74.28 L158.01,74.28 L158.01,73.82 L159.43,73.82 L159.43,73.37 L160.87,73.37 L162.30,73.37 L162.30,72.93 L162.30,72.52 L163.74,72.52 L163.74,72.12 L165.19,72.12 L165.19,71.73 L166.64,71.73 L168.09,71.73 L168.09,71.34 L168.09,70.97 L169.54,70.97 L169.54,70.61 L170.99,70.61 L170.99,70.25 L172.45,70.25 L173.91,70.25 L173.91,69.91 L173.91,69.57 L175.37,69.57 L175.37,69.24 L176.84,69.24 L176.84,68.92 L178.30,68.92 L179.77,68.92 L179.77,68.61 L181.24,68.61 L181.24,68.30 L181.24,68.00 L182.71,68.00 L184.17,68.00 L184.17,67.68 L184.17,67.35 L185.63,67.35 L185.63,67.00 L187.09,67.00 L188.55,67.00 L188.55,66.63 L190.00,66.63 L190.00,66.27 L191.46,66.27 L191.46,65.93 L191.46,65.61 L192.93,65.61 L194.40,65.61 L194.40,65.31 L195.87,65.31 L195.87,65.02 L195.87,64.73 L197.34,64.73 L198.81,64.73 L198.81,64.44 L198.81,64.14 L200.28,64.14 L200.28,63.81 L201.75,63.81 L201.75,63.49 L203.21,63.49 L203.21,63.16 L204.68,63.16 L204.68,62.83 L206.14,62.83 L206.14,62.51 L207.60,62.51 L207.60,62.20 L209.07,62.20 L209.07,61.90 L210.54,61.90 L212.02,61.90 L212.02,61.62 L213.49,61.62 L213.49,61.34 L213.49,61.08 L214.97,61.08 L216.44,61.08 L216.44,60.82 L216.44,60.56 L217.92,60.56 L217.92,60.31 L219.40,60.31 L220.88,60.31 L220.88,60.04 L220.88,59.78 L222.35,59.78 L222.35,59.51 L223.83,59.51 L223.83,59.25 L225.30,59.25 L225.30,58.98 L226.78,58.98 L228.26,58.98 L228.26,58.71 L228.26,58.45 L229.73,58.45 L231.21,58.45 L231.21,58.18 L231.21,57.92 L232.69,57.92 L232.69,57.66 L234.16,57.66 L234.16,57.40 L235.64,57.40 L235.64,57.13 L237.12,57.13 L237.12,56.86 L238.59,56.86 L238.59,56.59 L240.07,56.59 L240.07,56.29 L241.54,56.29 L243.01,56.29 L243.01,56.00 L244.48,56.00 L244.48,55.70 L244.48,55.40 L245.95,55.40 L247.42,55.40 L247.42,55.10 L247.42,54.82 L248.89,54.82 L250.36,54.82 L250.36,54.53 L250.36,54.27 L251.84,54.27 L253.32,54.27 L253.32,54.00 L254.80,54.00 L254.80,53.75 L254.80,53.50 L256.27,53.50 L256.27,53.26 L257.76,53.26 L257.76,53.02 L259.24,53.02 L260.72,53.02 L260.72,52.79 L260.72,52.57 L262.20,52.57 L262.20,52.35 L263.69,52.35 L263.69,52.14 L265.17,52.14 L265.17,51.93 L266.66,51.93 L268.14,51.93 L268.14,51.74 L268.14,51.55 L269.63,51.55 L271.12,51.55 L271.12,51.36 L272.61,51.36 L272.61,51.17 L274.10,51.17 L274.10,51.00 L275.59,51.00 L275.59,50.83 L277.08,50.83 L277.08,50.68 L278.57,50.53 L280.07,50.39 L281.56,50.28 L283.06,50.17 L284.55,50.05 L286.05,49.94 L287.55,49.84 L289.04,49.73 L290.54,49.63 L292.04,49.53 L293.53,49.42 L295.03,49.32 L296.53,49.22 L296.80,49.20" fill="none" stroke="#0072B5" stroke-width="1.6" stroke-linejoin="round"/>
<path d="M61.60,284.20 L61.59,282.20 L61.59,280.20 L61.58,278.20 L61.57,276.20 L61.56,274.20 L61.56,272.20 L61.55,270.20 L61.54,268.20 L61.54,266.20 L61.53,264.20 L61.52,262.20 L61.52,260.20 L61.51,258.20 L61.50,256.20 L61.50,254.20 L61.50,252.20 L61.50,250.20 L61.50,248.20 L61.50,246.20 L61.50,244.20 L61.50,242.20 L61.50,240.20 L61.52,238.20 L61.54,236.20 L61.55,234.20 L61.57,232.20 L61.59,230.20 L61.63,228.20 L61.67,226.20 L61.70,224.20 L61.74,222.20 L61.79,220.20 L61.83,218.20 L61.87,216.20 L61.92,214.20 L61.96,212.20 L62.00,210.20 L62.04,208.21 L62.09,206.21 L62.14,204.21 L62.19,202.21 L62.24,200.21 L62.30,198.21 L62.36,196.21 L62.43,194.21 L62.50,192.21 L62.57,190.21 L62.65,188.21 L62.74,186.22 L62.83,184.22 L62.96,182.22 L63.09,180.23 L63.09,178.24 L63.28,178.24 L63.28,176.25 L63.48,176.25 L63.48,174.27 L63.76,174.27 L63.76,172.29 L64.05,172.29 L64.05,170.31 L64.35,170.31 L64.35,168.33 L64.66,168.33 L64.97,168.33 L64.97,166.36 L65.30,166.36 L65.30,164.39 L65.30,162.42 L65.64,162.42 L66.01,162.42 L66.01,160.45 L66.01,158.49 L66.39,158.49 L66.79,158.49 L66.79,156.53 L66.79,154.58 L67.23,154.58 L67.23,152.63 L67.70,152.63 L67.70,150.70 L68.22,150.70 L68.22,148.78 L68.79,148.78 L68.79,146.88 L69.41,146.88 L70.06,146.88 L70.06,144.99 L70.75,144.99 L70.75,143.11 L71.48,143.11 L71.48,141.25 L72.30,141.25 L72.30,139.43 L73.24,139.43 L73.24,137.66 L73.24,135.96 L74.28,135.96 L75.41,135.96 L75.41,134.31 L76.63,134.31 L76.63,132.72 L77.92,132.72 L77.92,131.20 L77.92,129.73 L79.29,129.73 L79.29,128.34 L80.72,128.34 L82.23,128.34 L82.23,127.03 L83.74,127.03 L83.74,125.72 L83.74,124.34 L85.19,124.34 L85.19,122.92 L86.60,122.92 L86.60,121.50 L88.00,121.50 L88.00,120.08 L89.42,120.08 L89.42,118.67 L90.83,118.67 L90.83,117.26 L92.24,117.26 L93.65,117.26 L93.65,115.84 L95.06,115.84 L95.06,114.42 L96.47,114.42 L96.47,113.00 L97.90,113.00 L97.90,111.60 L97.90,110.22 L99.35,110.22 L99.35,108.86 L100.82,108.86 L102.30,108.86 L102.30,107.52 L103.79,107.52 L103.79,106.19 L103.79,104.87 L105.30,104.87 L105.30,103.58 L106.83,103.58 L108.37,103.58 L108.37,102.31 L109.93,102.31 L109.93,101.06 L111.51,101.06 L111.51,99.83 L113.10,99.83 L113.10,98.62 L114.70,98.62 L114.70,97.42 L116.31,97.42 L116.31,96.23 L116.31,95.05 L117.93,95.05 L119.55,95.05 L119.55,93.89 L121.18,93.89 L121.18,92.73 L122.82,92.73 L122.82,91.58 L124.49,91.58 L124.49,90.48 L124.49,89.40 L126.17,89.40 L127.89,89.40 L127.89,88.37 L127.89,87.37 L129.62,87.37 L129.62,86.40 L131.37,86.40 L131.37,85.47 L133.13,85.47 L134.91,85.47 L134.91,84.55 L134.91,83.68 L136.71,83.68 L136.71,82.82 L138.52,82.82 L138.52,82.00 L140.34,82.00 L142.17,82.00 L142.17,81.20 L144.02,81.20 L144.02,80.42 L144.02,79.65 L145.86,79.65 L147.72,79.65 L147.72,78.90 L147.72,78.18 L149.58,78.18 L151.45,78.18 L151.45,77.46 L151.45,76.79 L153.33,76.79 L155.22,76.79 L155.22,76.13 L157.13,76.13 L157.13,75.52 L159.04,75.52 L159.04,74.93 L159.04,74.37 L160.96,74.37 L162.88,74.37 L162.88,73.81 L164.80,73.81 L164.80,73.26 L166.72,73.26 L166.72,72.69 L168.63,72.69 L168.63,72.12 L168.63,71.56 L170.55,71.56 L170.55,71.01 L172.48,71.01 L172.48,70.47 L174.40,70.47 L174.40,69.95 L176.33,69.95 L178.27,69.95 L178.27,69.45 L178.27,68.98 L180.21,68.98 L182.15,68.98 L182.15,68.50 L184.10,68.50 L184.10,68.02 L184.10,67.54 L186.04,67.54 L186.04,67.05 L187.98,67.05 L187.98,66.56 L189.92,66.56 L191.86,66.56 L191.86,66.07 L191.86,65.60 L193.80,65.60 L193.80,65.13 L195.74,65.13 L197.69,65.13 L197.69,64.67 L197.69,64.22 L199.64,64.22 L201.59,64.22 L201.59,63.77 L203.54,63.77 L203.54,63.33 L203.54,62.89 L205.49,62.89 L207.44,62.89 L207.44,62.45 L209.39,62.45 L209.39,62.02 L211.35,62.02 L211.35,61.59 L211.35,61.16 L213.30,61.16 L215.26,61.16 L215.26,60.75 L215.26,60.35 L217.22,60.35 L217.22,59.95 L219.18,59.95 L219.18,59.56 L221.14,59.56 L223.10,59.56 L223.10,59.18 L223.10,58.79 L225.06,58.79 L227.02,58.79 L227.02,58.39 L227.02,57.99 L228.98,57.99 L228.98,57.60 L230.94,57.60 L230.94,57.21 L232.91,57.21 L234.87,57.21 L234.87,56.83 L234.87,56.46 L236.83,56.46 L238.80,56.46 L238.80,56.10 L240.77,56.10 L240.77,55.75 L240.77,55.40 L242.74,55.40 L244.71,55.40 L244.71,55.05 L244.71,54.69 L246.68,54.69 L248.64,54.69 L248.64,54.33 L250.61,54.33 L250.61,53.97 L252.58,53.97 L252.58,53.61 L254.55,53.61 L254.55,53.28 L256.53,53.28 L256.53,52.96 L256.53,52.66 L258.50,52.66 L258.50,52.38 L260.48,52.38 L262.47,52.38 L262.47,52.11 L264.45,52.11 L264.45,51.87 L264.45,51.64 L266.44,51.64 L268.42,51.64 L268.42,51.42 L270.41,51.42 L270.41,51.21 L272.40,51.21 L272.40,51.00 L272.40,50.80 L274.39,50.80 L276.38,50.80 L276.38,50.62 L276.38,50.44 L278.38,50.44 L278.38,50.27 L280.37,50.27 L282.36,50.13 L284.36,49.99 L286.35,49.85 L288.35,49.72 L290.35,49.60 L292.34,49.47 L294.34,49.35 L296.34,49.23 L296.80,49.20 L296.80,49.50 L296.35,49.56 L296.35,49.82 L294.37,49.82 L294.37,50.08 L292.38,50.08 L290.40,50.08 L290.40,50.34 L290.40,50.61 L288.42,50.61 L286.43,50.61 L286.43,50.87 L284.45,50.87 L284.45,51.13 L284.45,51.40 L282.47,51.40 L282.47,51.67 L280.49,51.67 L280.49,51.95 L278.51,51.95 L278.51,52.24 L276.53,52.24 L274.55,52.24 L274.55,52.53 L274.55,52.82 L272.57,52.82 L272.57,53.11 L270.59,53.11 L268.61,53.11 L268.61,53.39 L268.61,53.67 L266.63,53.67 L264.65,53.67 L264.65,53.95 L264.65,54.28 L262.68,54.28 L260.72,54.28 L260.72,54.70 L258.79,54.70 L258.79,55.20 L258.79,55.75 L256.87,55.75 L254.94,55.75 L254.94,56.30 L254.94,56.84 L253.02,56.84 L251.09,56.84 L251.09,57.39 L251.09,57.92 L249.16,57.92 L249.16,58.42 L247.23,58.42 L245.28,58.42 L245.28,58.85 L245.28,59.27 L243.32,59.27 L243.32,59.64 L241.36,59.64 L241.36,60.00 L239.39,60.00 L237.42,60.00 L237.42,60.35 L237.42,60.66 L235.44,60.66 L233.47,60.66 L233.47,60.97 L231.49,60.97 L231.49,61.26 L231.49,61.55 L229.51,61.55 L227.53,61.55 L227.53,61.84 L225.55,61.84 L225.55,62.13 L223.57,62.13 L223.57,62.42 L223.57,62.73 L221.60,62.73 L221.60,63.09 L219.63,63.09 L217.67,63.09 L217.67,63.51 L215.73,63.51 L215.73,63.96 L213.79,63.96 L213.79,64.48 L213.79,65.00 L211.86,65.00 L211.86,65.52 L209.93,65.52 L208.00,65.52 L208.00,66.03 L206.06,66.03 L206.06,66.54 L206.06,67.06 L204.13,67.06 L204.13,67.59 L202.20,67.59 L200.28,67.59 L200.28,68.14 L200.28,68.70 L198.36,68.70 L196.45,68.70 L196.45,69.28 L194.54,69.28 L194.54,69.87 L192.63,69.87 L192.63,70.48 L190.73,70.48 L190.73,71.10 L190.73,71.73 L188.83,71.73 L186.94,71.73 L186.94,72.36 L185.04,72.36 L185.04,73.01 L185.04,73.66 L183.15,73.66 L183.15,74.32 L181.26,74.32 L181.26,74.98 L179.37,74.98 L177.48,74.98 L177.48,75.63 L175.60,75.63 L175.60,76.29 L175.60,76.94 L173.71,76.94 L173.71,77.59 L171.81,77.59 L169.92,77.59 L169.92,78.24 L169.92,78.86 L168.02,78.86 L168.02,79.46 L166.11,79.46 L166.11,79.94 L164.17,79.94 L164.17,80.30 L162.20,80.30 L160.24,80.30 L160.24,80.66 L160.24,81.14 L158.30,81.14 L158.30,81.72 L156.38,81.72 L156.38,82.40 L154.50,82.40 L154.50,83.15 L152.65,83.15 L150.82,83.15 L150.82,83.95 L150.82,84.78 L149.00,84.78 L147.17,84.78 L147.17,85.59 L145.35,85.59 L145.35,86.42 L145.35,87.32 L143.56,87.32 L143.56,88.31 L141.83,88.31 L140.16,88.31 L140.16,89.41 L138.55,89.41 L138.55,90.60 L136.95,90.60 L136.95,91.79 L135.34,91.79 L135.34,92.99 L133.74,92.99 L133.74,94.19 L133.74,95.40 L132.15,95.40 L132.15,96.61 L130.56,96.61 L128.95,96.61 L128.95,97.80 L127.33,97.80 L127.33,98.98 L125.71,98.98 L125.71,100.14 L124.07,100.14 L124.07,101.29 L124.07,102.42 L122.42,102.42 L122.42,103.51 L120.75,103.51 L120.75,104.55 L119.04,104.55 L119.04,105.55 L117.30,105.55 L115.54,105.55 L115.54,106.49 L113.79,106.49 L113.79,107.46 L113.79,108.46 L112.06,108.46 L112.06,109.55 L110.38,109.55 L110.38,110.67 L108.73,110.67 L108.73,111.83 L107.10,111.83 L105.53,111.83 L105.53,113.08 L104.05,113.08 L104.05,114.42 L102.64,114.42 L102.64,115.84 L101.30,115.84 L101.30,117.32 L99.91,117.32 L99.91,118.76 L98.47,118.76 L98.47,120.14 L98.47,121.45 L96.96,121.45 L96.96,122.72 L95.41,122.72 L93.85,122.72 L93.85,123.97 L93.85,125.23 L92.30,125.23 L90.74,125.23 L90.74,126.48 L90.74,127.74 L89.18,127.74 L89.18,129.04 L87.66,129.04 L86.19,129.04 L86.19,130.39 L86.19,131.78 L84.75,131.78 L84.75,133.19 L83.33,133.19 L83.33,134.58 L81.89,134.58 L81.89,135.96 L80.44,135.96 L80.44,137.35 L79.00,137.35 L77.66,137.35 L77.66,138.83 L76.43,138.83 L76.43,140.40 L76.43,142.04 L75.29,142.04 L74.23,142.04 L74.23,143.74 L73.26,143.74 L73.26,145.49 L72.37,145.49 L72.37,147.28 L72.37,149.12 L71.59,149.12 L71.59,150.99 L70.88,150.99 L70.88,152.88 L70.21,152.88 L69.59,152.88 L69.59,154.78 L69.04,154.78 L69.04,156.70 L69.04,158.64 L68.54,158.64 L68.08,158.64 L68.08,160.58 L67.67,160.58 L67.67,162.54 L67.67,164.50 L67.29,164.50 L67.29,166.47 L66.93,166.47 L66.58,166.47 L66.58,168.44 L66.58,170.41 L66.22,170.41 L65.85,170.41 L65.85,172.37 L65.48,172.37 L65.48,174.34 L65.11,174.34 L65.11,176.30 L64.84,176.30 L64.84,178.28 L64.57,178.28 L64.57,180.27 L64.38,180.27 L64.38,182.26 L64.38,184.25 L64.18,184.25 L64.04,186.24 L63.89,188.24 L63.77,190.23 L63.65,192.23 L63.54,194.23 L63.45,196.22 L63.36,198.22 L63.27,200.22 L63.18,202.22 L63.11,204.22 L63.04,206.22 L62.97,208.21 L62.90,210.21 L62.83,212.21 L62.77,214.21 L62.71,216.21 L62.65,218.21 L62.59,220.21 L62.55,222.21 L62.50,224.21 L62.45,226.21 L62.40,228.21 L62.36,230.21 L62.32,232.21 L62.28,234.20 L62.24,236.20 L62.20,238.20 L62.16,240.20 L62.13,242.20 L62.10,244.20 L62.06,246.20 L62.03,248.20 L62.00,250.20 L61.97,252.20 L61.94,254.20 L61.92,256.20 L61.89,258.20 L61.87,260.20 L61.84,262.20 L61.82,264.20 L61.79,266.20 L61.77,268.20 L61.75,270.20 L61.73,272.20 L61.71,274.20 L61.69,276.20 L61.66,278.20 L61.64,280.20 L61.62,282.20 L61.60,284.20 Z" fill="#3C6ED2" fill-opacity="0.3" stroke="none"/>
<path d="M61.60,284.20 L61.60,282.70 L61.60,281.20 L61.59,279.70 L61.59,278.20 L61.59,276.70 L61.59,275.20 L61.59,273.70 L61.59,272.20 L61.59,270.70 L61.58,269.20 L61.58,267.70 L61.58,266.20 L61.58,264.70 L61.58,263.20 L61.58,261.70 L61.58,260.20 L61.58,258.70 L61.59,257.20 L61.59,255.70 L61.59,254.20 L61.59,252.70 L61.60,251.20 L61.60,249.70 L61.61,248.20 L61.62,246.70 L61.64,245.20 L61.65,243.70 L61.66,242.20 L61.67,240.70 L61.69,239.20 L61.71,237.70 L61.73,236.20 L61.74,234.70 L61.76,233.20 L61.78,231.70 L61.81,230.20 L61.84,228.70 L61.86,227.20 L61.89,225.70 L61.92,224.20 L61.96,222.70 L62.00,221.20 L62.04,219.70 L62.09,218.20 L62.15,216.71 L62.20,215.21 L62.26,213.71 L62.32,212.21 L62.37,210.71 L62.43,209.21 L62.48,207.71 L62.52,206.21 L62.57,204.71 L62.62,203.21 L62.68,201.72 L62.73,200.22 L62.79,198.72 L62.86,197.22 L62.94,195.72 L63.02,194.22 L63.10,192.73 L63.19,191.23 L63.27,189.73 L63.34,188.23 L63.41,186.73 L63.47,185.23 L63.54,183.74 L63.63,182.24 L63.74,180.74 L63.90,180.74 L63.90,179.25 L64.10,179.25 L64.10,177.77 L64.32,177.77 L64.32,176.28 L64.32,174.80 L64.57,174.80 L64.83,174.80 L64.83,173.33 L65.09,173.33 L65.09,171.85 L65.34,171.85 L65.34,170.37 L65.34,168.89 L65.60,168.89 L65.60,167.42 L65.86,167.42 L65.86,165.94 L66.13,165.94 L66.40,165.94 L66.40,164.46 L66.40,162.99 L66.67,162.99 L66.93,162.99 L66.93,161.51 L66.93,160.04 L67.21,160.04 L67.48,160.04 L67.48,158.56 L67.78,158.56 L67.78,157.09 L67.78,155.63 L68.10,155.63 L68.44,155.63 L68.44,154.17 L68.44,152.71 L68.80,152.71 L69.17,152.71 L69.17,151.26 L69.55,151.26 L69.55,149.81 L69.55,148.35 L69.92,148.35 L70.30,148.35 L70.30,146.90 L70.73,146.90 L70.73,145.46 L71.20,145.46 L71.20,144.04 L71.20,142.64 L71.74,142.64 L72.34,142.64 L72.34,141.27 L73.00,141.27 L73.00,139.92 L73.77,139.92 L73.77,138.63 L73.77,137.45 L74.68,137.45 L74.68,136.35 L75.70,136.35 L76.72,136.35 L76.72,135.25 L76.72,134.14 L77.73,134.14 L78.75,134.14 L78.75,133.04 L78.75,131.95 L79.78,131.95 L80.83,131.95 L80.83,130.87 L81.89,130.87 L81.89,129.82 L82.96,129.82 L82.96,128.76 L82.96,127.69 L84.01,127.69 L84.01,126.57 L85.00,126.57 L85.00,125.43 L85.98,125.43 L86.97,125.43 L86.97,124.31 L86.97,123.21 L88.00,123.21 L89.10,123.21 L89.10,122.19 L89.10,121.20 L90.22,121.20 L91.33,121.20 L91.33,120.19 L92.41,120.19 L92.41,119.15 L92.41,118.10 L93.48,118.10 L94.55,118.10 L94.55,117.04 L95.61,117.04 L95.61,115.98 L96.65,115.98 L96.65,114.90 L96.65,113.82 L97.68,113.82 L97.68,112.74 L98.73,112.74 L99.80,112.74 L99.80,111.69 L99.80,110.70 L100.93,110.70 L102.08,110.70 L102.08,109.75 L103.26,109.75 L103.26,108.82 L104.46,108.82 L104.46,107.91 L104.46,107.02 L105.66,107.02 L106.88,107.02 L106.88,106.14 L108.11,106.14 L108.11,105.29 L108.11,104.44 L109.35,104.44 L109.35,103.60 L110.59,103.60 L111.83,103.60 L111.83,102.76 L113.08,102.76 L113.08,101.93 L113.08,101.10 L114.33,101.10 L114.33,100.27 L115.59,100.27 L116.84,100.27 L116.84,99.46 L116.84,98.65 L118.11,98.65 L118.11,97.84 L119.37,97.84 L119.37,97.03 L120.63,97.03 L121.89,97.03 L121.89,96.21 L123.12,96.21 L123.12,95.35 L123.12,94.47 L124.34,94.47 L124.34,93.58 L125.54,93.58 L126.75,93.58 L126.75,92.69 L127.96,92.69 L127.96,91.81 L127.96,90.94 L129.18,90.94 L130.41,90.94 L130.41,90.07 L131.64,90.07 L131.64,89.22 L131.64,88.40 L132.90,88.40 L134.19,88.40 L134.19,87.63 L135.50,87.63 L135.50,86.90 L136.82,86.90 L136.82,86.21 L136.82,85.53 L138.16,85.53 L138.16,84.84 L139.50,84.84 L139.50,84.16 L140.83,84.16 L140.83,83.50 L142.18,83.50 L142.18,82.86 L143.53,82.86 L143.53,82.25 L144.91,82.25 L146.29,82.25 L146.29,81.68 L147.69,81.68 L147.69,81.15 L149.09,81.15 L149.09,80.59 L150.46,80.59 L150.46,79.99 L151.82,79.99 L151.82,79.35 L151.82,78.68 L153.16,78.68 L154.53,78.68 L154.53,78.07 L154.53,77.52 L155.93,77.52 L157.34,77.52 L157.34,77.03 L158.77,77.03 L158.77,76.58 L160.21,76.58 L160.21,76.14 L160.21,75.72 L161.65,75.72 L161.65,75.31 L163.09,75.31 L163.09,74.90 L164.53,74.90 L165.98,74.90 L165.98,74.50 L165.98,74.10 L167.43,74.10 L168.86,74.10 L168.86,73.68 L168.86,73.23 L170.30,73.23 L170.30,72.75 L171.72,72.75 L171.72,72.24 L173.13,72.24 L174.54,72.24 L174.54,71.73 L174.54,71.23 L175.95,71.23 L175.95,70.75 L177.37,70.75 L177.37,70.29 L178.80,70.29 L180.23,70.29 L180.23,69.84 L181.67,69.84 L181.67,69.41 L181.67,68.99 L183.11,68.99 L184.55,68.99 L184.55,68.59 L186.01,68.59 L186.01,68.22 L186.01,67.86 L187.46,67.86 L187.46,67.51 L188.92,67.51 L188.92,67.16 L190.38,67.16 L190.38,66.81 L191.84,66.81 L191.84,66.44 L193.29,66.44 L194.75,66.44 L194.75,66.06 L196.20,66.06 L196.20,65.68 L196.20,65.31 L197.65,65.31 L199.11,65.31 L199.11,64.95 L199.11,64.62 L200.57,64.62 L202.03,64.62 L202.03,64.29 L203.50,64.29 L203.50,63.99 L204.97,63.99 L204.97,63.67 L206.43,63.67 L206.43,63.36 L206.43,63.01 L207.89,63.01 L209.35,63.01 L209.35,62.64 L210.80,62.64 L210.80,62.28 L210.80,61.95 L212.27,61.95 L212.27,61.64 L213.73,61.64 L215.21,61.64 L215.21,61.35 L216.68,61.35 L216.68,61.07 L218.15,61.07 L218.15,60.79 L218.15,60.52 L219.63,60.52 L221.11,60.52 L221.11,60.26 L222.58,60.26 L222.58,60.00 L224.06,60.00 L224.06,59.75 L224.06,59.50 L225.54,59.50 L225.54,59.25 L227.02,59.25 L228.50,59.25 L228.50,59.00 L229.98,59.00 L229.98,58.76 L229.98,58.52 L231.46,58.52 L231.46,58.29 L232.94,58.29 L232.94,58.05 L234.42,58.05 L235.90,58.05 L235.90,57.80 L237.38,57.80 L237.38,57.55 L237.38,57.29 L238.86,57.29 L240.33,57.29 L240.33,57.02 L240.33,56.74 L241.81,56.74 L241.81,56.46 L243.28,56.46 L244.75,56.46 L244.75,56.16 L246.22,56.16 L246.22,55.85 L246.22,55.50 L247.68,55.50 L247.68,55.12 L249.13,55.12 L250.57,55.12 L250.57,54.71 L252.01,54.71 L252.01,54.29 L253.46,54.29 L253.46,53.90 L253.46,53.52 L254.91,53.52 L256.38,53.52 L256.38,53.23 L257.86,53.23 L257.86,52.96 L257.86,52.73 L259.34,52.73 L260.82,52.73 L260.82,52.51 L262.31,52.51 L262.31,52.29 L262.31,52.07 L263.79,52.07 L265.28,52.07 L265.28,51.87 L266.76,51.87 L266.76,51.67 L268.25,51.67 L268.25,51.48 L268.25,51.31 L269.74,51.31 L269.74,51.15 L271.23,51.15 L272.73,51.15 L272.73,51.00 L274.22,50.85 L275.71,50.70 L277.20,50.56 L278.70,50.43 L280.19,50.30 L281.69,50.17 L283.18,50.05 L284.68,49.93 L286.17,49.82 L287.67,49.72 L289.17,49.62 L290.67,49.54 L292.16,49.45 L293.66,49.37 L295.16,49.29 L296.66,49.21 L296.80,49.20" fill="none" stroke="#E18727" stroke-width="1.6" stroke-linejoin="round"/>
<rect x="50.3" y="37.7" width="258.20" height="257.80" fill="none" stroke="#3a3a3a" stroke-width="1.1"/>
<line x1="46.90" y1="284.20" x2="50.3" y2="284.20" stroke="#333333" stroke-width="1.1"/>
<text x="44.30" y="287.80" text-anchor="end" class="tk">0.00</text>
<line x1="61.60" y1="295.5" x2="61.60" y2="298.90" stroke="#333333" stroke-width="1.1"/>
<text x="61.60" y="308.9" text-anchor="middle" class="tk">0.00</text>
<line x1="46.90" y1="225.45" x2="50.3" y2="225.45" stroke="#333333" stroke-width="1.1"/>
<text x="44.30" y="229.05" text-anchor="end" class="tk">0.25</text>
<line x1="120.40" y1="295.5" x2="120.40" y2="298.90" stroke="#333333" stroke-width="1.1"/>
<text x="120.40" y="308.9" text-anchor="middle" class="tk">0.25</text>
<line x1="46.90" y1="166.70" x2="50.3" y2="166.70" stroke="#333333" stroke-width="1.1"/>
<text x="44.30" y="170.30" text-anchor="end" class="tk">0.50</text>
<line x1="179.20" y1="295.5" x2="179.20" y2="298.90" stroke="#333333" stroke-width="1.1"/>
<text x="179.20" y="308.9" text-anchor="middle" class="tk">0.50</text>
<line x1="46.90" y1="107.95" x2="50.3" y2="107.95" stroke="#333333" stroke-width="1.1"/>
<text x="44.30" y="111.55" text-anchor="end" class="tk">0.75</text>
<line x1="238.00" y1="295.5" x2="238.00" y2="298.90" stroke="#333333" stroke-width="1.1"/>
<text x="238.00" y="308.9" text-anchor="middle" class="tk">0.75</text>
<line x1="46.90" y1="49.20" x2="50.3" y2="49.20" stroke="#333333" stroke-width="1.1"/>
<text x="44.30" y="52.80" text-anchor="end" class="tk">1.00</text>
<line x1="296.80" y1="295.5" x2="296.80" y2="298.90" stroke="#333333" stroke-width="1.1"/>
<text x="296.80" y="308.9" text-anchor="middle" class="tk">1.00</text>
<text x="50.60" y="28.5" class="ti">ROC curve in MIMIC cohort</text>
<text transform="translate(20.00,166.3) rotate(-90)" text-anchor="middle" class="al">Sensitivity</text>
<text x="179.60" y="322.3" text-anchor="middle" class="al">1−Specificity</text>
<line x1="155.80" y1="202.10" x2="167.70" y2="202.10" stroke="#BC3C29" stroke-width="1.4"/>
<text x="179.30" y="206.50" class="lg" fill="#BC3C29" stroke="#BC3C29">Xgboost AUC = 0.87</text>
<line x1="155.80" y1="213.75" x2="167.70" y2="213.75" stroke="#0072B5" stroke-width="1.4"/>
<text x="179.30" y="218.15" class="lg" fill="#0072B5" stroke="#0072B5">LightGBM AUC = 0.86</text>
<line x1="155.80" y1="225.40" x2="167.70" y2="225.40" stroke="#E18727" stroke-width="1.4"/>
<text x="179.30" y="229.80" class="lg" fill="#E18727" stroke="#E18727">Ranger AUC = 0.86</text>
<line x1="436.10" y1="286.40" x2="426.9" y2="295.5" stroke="#ababab" stroke-width="1.1" stroke-dasharray="1.1 3.4"/>
<line x1="675.50" y1="47.00" x2="683.9" y2="37.7" stroke="#ababab" stroke-width="1.1" stroke-dasharray="1.1 3.4"/>
<line x1="438.3" y1="284.2" x2="673.3" y2="49.19999999999999" stroke="#a6a6a6" stroke-width="1.4" stroke-dasharray="7.1 2.38" stroke-dashoffset="0.9"/>
<path d="M438.30,233.00 L438.30,230.40 L438.30,227.80 L438.30,225.20 L438.30,222.60 L438.30,220.00 L438.30,217.40 L438.30,214.80 L438.30,212.20 L438.30,209.60 L438.30,207.00 L438.30,204.40 L438.30,201.80 L438.30,199.20 L438.30,196.60 L438.30,194.00 L438.30,191.40 L438.30,188.80 L438.30,186.20 L438.30,183.60 L438.30,181.00 L438.30,178.40 L438.30,175.80 L438.30,173.20 L440.40,173.20 L440.40,172.70 L440.40,172.30 L442.61,172.30 L442.66,169.70 L442.70,167.10 L442.75,164.50 L442.81,161.90 L443.07,161.90 L443.07,159.32 L443.33,159.32 L443.33,156.73 L443.33,154.14 L443.59,154.14 L443.59,151.55 L443.84,151.55 L444.73,151.55 L444.73,149.27 L444.73,147.43 L446.57,147.43 L446.57,145.34 L448.11,145.34 L449.55,145.34 L449.55,143.18 L450.99,143.18 L450.99,141.01 L450.99,138.85 L452.43,138.85 L452.43,136.69 L453.88,136.69 L453.88,134.57 L455.38,134.57 L457.09,134.57 L457.09,132.61 L457.09,130.59 L458.71,130.59 L458.71,128.30 L459.93,128.30 L459.93,126.00 L461.14,126.00 L461.14,123.72 L462.40,123.72 L463.89,123.72 L463.89,121.59 L463.89,119.44 L465.34,119.44 L465.34,117.21 L466.68,117.21 L468.01,117.21 L468.01,114.98 L469.35,114.98 L469.35,112.75 L469.35,110.52 L470.69,110.52 L472.03,110.52 L472.03,108.29 L473.36,108.29 L473.36,106.06 L474.87,106.06 L474.87,103.95 L474.87,101.95 L476.54,101.95 L476.54,99.96 L478.20,99.96 L479.96,99.96 L479.96,98.04 L481.80,98.04 L481.80,96.20 L483.64,96.20 L483.64,94.36 L483.64,92.56 L485.51,92.56 L485.51,90.87 L487.48,90.87 L487.48,89.18 L489.46,89.18 L489.46,87.49 L491.43,87.49 L493.39,87.49 L493.39,85.78 L495.35,85.78 L495.35,84.07 L497.31,84.07 L497.31,82.36 L499.26,82.36 L499.26,80.65 L501.24,80.65 L501.24,78.96 L501.24,77.30 L503.24,77.30 L503.24,75.63 L505.24,75.63 L505.24,74.03 L507.28,74.03 L507.28,72.45 L509.35,72.45 L509.35,71.10 L511.52,71.10 L511.52,70.59 L514.07,70.59 L516.62,70.59 L516.62,70.08 L516.62,69.46 L519.14,69.46 L521.66,69.46 L521.66,68.82 L524.19,68.82 L524.19,68.19 L524.19,67.55 L526.71,67.55 L526.71,66.68 L529.15,66.68 L531.60,66.68 L531.60,65.79 L534.04,65.79 L534.04,64.90 L536.47,64.90 L536.47,63.98 L538.90,63.98 L538.90,63.06 L541.34,63.06 L541.34,62.14 L541.34,61.76 L543.90,61.76 L546.48,61.76 L546.48,61.48 L549.07,61.48 L549.07,61.20 L549.07,60.85 L551.64,60.85 L554.21,60.85 L554.21,60.45 L554.21,60.05 L556.78,60.05 L559.35,60.05 L559.35,59.65 L559.35,59.24 L561.92,59.24 L561.92,58.80 L564.48,58.80 L564.48,58.36 L567.04,58.36 L569.60,58.36 L569.60,57.91 L572.15,57.91 L572.15,57.43 L574.52,57.43 L574.52,56.36 L576.98,56.36 L576.98,55.62 L579.57,55.62 L579.57,55.41 L579.57,55.20 L582.16,55.20 L582.16,54.98 L584.75,54.98 L587.34,54.98 L587.34,54.77 L589.93,54.77 L589.93,54.53 L589.93,54.30 L592.52,54.30 L592.52,54.06 L595.11,54.06 L595.11,53.83 L597.70,53.83 L600.29,53.83 L600.29,53.63 L602.89,53.63 L602.89,53.43 L602.89,53.24 L605.48,53.24 L608.07,53.24 L608.07,53.04 L610.65,53.04 L610.65,52.77 L613.20,52.77 L613.20,52.26 L615.75,52.26 L615.75,51.75 L615.75,51.46 L618.33,51.46 L620.92,51.46 L620.92,51.18 L620.92,50.91 L623.51,50.91 L623.51,50.64 L626.09,50.64 L628.68,50.64 L628.68,50.39 L628.68,50.15 L631.27,50.15 L633.86,50.15 L633.86,49.90 L636.45,49.90 L636.45,49.65 L639.04,49.53 L641.64,49.43 L644.24,49.34 L646.84,49.24 L649.44,49.20 L652.04,49.20 L654.64,49.20 L657.24,49.20 L659.84,49.20 L662.44,49.20 L665.04,49.20 L667.64,49.20 L670.24,49.20 L672.84,49.20 L673.30,49.20 L673.30,49.50 L673.10,49.53 L673.10,49.89 L670.52,49.89 L667.95,49.89 L667.95,50.25 L665.37,50.25 L665.37,50.61 L665.37,50.97 L662.80,50.97 L660.22,50.97 L660.22,51.33 L660.22,51.74 L657.65,51.74 L657.65,52.21 L655.10,52.21 L655.10,52.67 L652.54,52.67 L652.54,53.14 L649.98,53.14 L647.42,53.14 L647.42,53.61 L644.86,53.61 L644.86,54.07 L642.31,54.07 L642.31,54.54 L642.31,55.00 L639.75,55.00 L637.19,55.00 L637.19,55.47 L637.19,55.90 L634.63,55.90 L632.06,55.90 L632.06,56.32 L629.50,56.32 L629.50,56.75 L626.93,56.75 L626.93,57.18 L626.93,57.63 L624.37,57.63 L621.82,57.63 L621.82,58.14 L621.82,58.65 L619.27,58.65 L616.72,58.65 L616.72,59.16 L614.17,59.16 L614.17,59.67 L614.17,60.18 L611.62,60.18 L609.07,60.18 L609.07,60.69 L609.07,61.20 L606.52,61.20 L603.98,61.20 L603.98,61.70 L603.98,62.21 L601.43,62.21 L601.43,62.72 L598.88,62.72 L596.33,62.72 L596.33,63.23 L596.33,63.69 L593.77,63.69 L593.77,64.07 L591.20,64.07 L591.20,64.46 L588.62,64.46 L586.05,64.46 L586.05,64.84 L583.51,64.84 L583.51,65.37 L583.51,66.00 L580.99,66.00 L580.99,66.63 L578.47,66.63 L578.47,67.26 L575.94,67.26 L575.94,67.84 L573.41,67.84 L570.87,67.84 L570.87,68.39 L568.32,68.39 L568.32,68.93 L568.32,69.87 L565.91,69.87 L565.91,70.87 L563.51,70.87 L563.51,71.87 L561.11,71.87 L558.71,71.87 L558.71,72.87 L556.31,72.87 L556.31,73.87 L553.85,73.87 L553.85,74.72 L553.85,75.54 L551.38,75.54 L551.38,76.36 L548.91,76.36 L548.91,77.18 L546.45,77.18 L543.98,77.18 L543.98,78.01 L541.74,78.01 L541.74,79.32 L541.74,80.63 L539.49,80.63 L537.17,80.63 L537.17,81.76 L534.68,81.76 L534.68,82.54 L534.68,83.31 L532.20,83.31 L529.72,83.31 L529.72,84.08 L529.72,84.83 L527.23,84.83 L524.78,84.83 L524.78,85.66 L524.78,87.22 L522.70,87.22 L522.70,88.78 L520.62,88.78 L520.62,90.55 L518.84,90.55 L518.84,93.04 L518.11,93.04 L518.11,95.54 L517.38,95.54 L517.38,97.56 L515.90,97.56 L515.90,99.27 L513.94,99.27 L513.94,100.94 L511.96,100.94 L511.96,102.28 L509.73,102.28 L507.49,102.28 L507.49,103.61 L507.49,105.27 L505.62,105.27 L505.62,107.60 L504.45,107.60 L503.29,107.60 L503.29,109.92 L501.40,109.92 L501.40,111.62 L499.33,111.62 L499.33,113.19 L499.33,114.91 L497.38,114.91 L497.38,116.63 L495.44,116.63 L493.48,116.63 L493.48,118.35 L491.51,118.35 L491.51,120.04 L489.43,120.04 L489.43,121.60 L487.42,121.60 L487.42,123.16 L487.42,125.49 L486.25,125.49 L485.19,125.49 L485.19,127.86 L485.19,130.29 L484.26,130.29 L483.19,130.29 L483.19,132.65 L483.19,134.71 L481.66,134.71 L479.79,134.71 L479.79,136.51 L479.79,138.00 L477.66,138.00 L475.49,138.00 L475.49,139.43 L473.47,139.43 L473.47,141.00 L472.02,141.00 L472.02,143.16 L470.37,143.16 L470.37,145.16 L470.37,147.16 L468.70,147.16 L468.70,149.35 L467.33,149.35 L466.16,149.35 L466.16,151.67 L466.16,154.00 L465.00,154.00 L463.84,154.00 L463.84,156.32 L463.84,158.65 L462.68,158.65 L461.66,158.65 L461.66,161.03 L461.66,163.50 L460.83,163.50 L460.01,163.50 L460.01,165.97 L459.38,165.97 L459.38,168.49 L458.75,168.49 L458.75,171.01 L458.75,173.47 L457.92,173.47 L456.96,173.47 L456.96,175.88 L456.00,175.88 L456.00,178.30 L456.00,180.59 L454.76,180.59 L453.50,180.59 L453.50,182.86 L452.19,182.86 L452.19,185.11 L450.60,185.11 L450.60,187.13 L448.69,187.13 L448.69,188.89 L448.69,190.96 L447.38,190.96 L447.38,193.54 L447.06,193.54 L446.82,193.54 L446.82,196.13 L446.82,198.72 L446.61,198.72 L446.39,198.72 L446.39,201.32 L446.18,201.32 L446.18,203.91 L446.18,206.50 L445.96,206.50 L445.96,209.09 L445.80,209.09 L445.80,211.69 L445.80,214.29 L445.80,216.74 L444.99,216.74 L444.99,219.18 L444.07,219.18 L444.07,221.61 L443.15,221.61 L443.15,224.13 L442.53,224.13 L441.96,224.13 L441.96,226.67 L441.96,229.20 L441.40,229.20 L441.40,231.45 L440.39,231.45 L438.30,231.45 L438.30,233.00 Z" fill="#DE2020" fill-opacity="0.3" stroke="none"/>
<path d="M438.30,284.20 L438.30,282.00 L438.30,279.80 L438.30,277.60 L438.30,275.40 L438.30,273.20 L438.30,271.00 L438.30,268.80 L438.30,266.60 L438.30,264.40 L438.30,262.20 L438.30,260.00 L438.30,257.80 L438.30,255.60 L438.30,253.40 L438.30,251.20 L438.30,249.00 L438.30,246.80 L438.30,244.60 L438.30,242.40 L438.30,240.20 L438.30,238.00 L438.30,235.80 L438.30,233.60 L438.30,231.40 L438.30,229.20 L438.30,227.00 L438.30,224.80 L438.30,222.60 L438.30,220.40 L438.30,218.20 L438.30,216.00 L438.30,213.80 L438.30,211.60 L438.30,209.40 L438.30,207.20 L438.30,205.00 L438.30,203.50 L439.00,203.50 L441.20,203.50 L442.41,203.50 L442.41,202.50 L442.42,200.30 L442.44,198.10 L442.46,195.90 L442.47,193.70 L442.49,191.50 L442.51,189.30 L442.53,187.10 L442.55,184.90 L442.57,182.70 L442.59,180.50 L442.59,179.40 L443.70,179.40 L445.49,179.40 L445.49,178.91 L445.90,178.91 L445.90,176.75 L445.90,174.59 L446.31,174.59 L446.31,172.42 L446.72,172.42 L447.30,172.42 L447.30,170.30 L447.30,168.19 L447.92,168.19 L447.92,166.09 L448.55,166.09 L449.37,166.09 L449.37,164.05 L449.37,162.01 L450.20,162.01 L451.02,162.01 L451.02,159.97 L451.02,157.93 L451.85,157.93 L453.11,157.93 L453.11,156.13 L453.11,154.34 L454.40,154.34 L455.57,154.34 L455.57,152.48 L456.73,152.48 L456.73,150.62 L457.89,150.62 L457.89,148.75 L459.05,148.75 L459.05,146.88 L459.83,146.88 L459.83,144.82 L459.83,142.77 L460.62,142.77 L461.64,142.77 L461.64,140.82 L462.67,140.82 L462.67,138.88 L462.67,136.97 L463.75,136.97 L463.75,135.20 L465.06,135.20 L466.25,135.20 L466.25,133.35 L466.25,131.41 L467.28,131.41 L468.49,131.41 L468.49,129.58 L469.78,129.58 L469.78,127.80 L471.24,127.80 L471.24,126.15 L472.70,126.15 L472.70,124.50 L472.70,122.81 L474.10,122.81 L475.50,122.81 L475.50,121.11 L475.50,119.83 L477.24,119.83 L479.11,119.83 L479.11,118.70 L480.69,118.70 L480.69,117.16 L480.69,115.63 L482.26,115.63 L482.26,113.71 L483.31,113.71 L483.31,111.73 L484.27,111.73 L485.23,111.73 L485.23,109.75 L485.23,107.87 L486.37,107.87 L487.52,107.87 L487.52,105.99 L487.52,104.30 L488.90,104.30 L490.45,104.30 L490.45,102.75 L490.45,101.32 L492.10,101.32 L492.10,100.42 L494.11,100.42 L496.14,100.42 L496.14,99.59 L498.24,99.59 L498.24,98.92 L500.33,98.92 L500.33,98.25 L502.08,98.25 L502.08,97.02 L503.64,97.02 L503.64,95.46 L505.11,95.46 L505.11,93.84 L506.34,93.84 L506.34,92.01 L507.57,92.01 L507.57,90.19 L507.57,88.48 L508.92,88.48 L510.68,88.48 L510.68,87.15 L512.44,87.15 L512.44,85.84 L514.27,85.84 L514.27,84.61 L516.09,84.61 L516.09,83.38 L517.94,83.38 L517.94,82.20 L517.94,81.40 L519.99,81.40 L522.04,81.40 L522.04,80.60 L524.08,80.60 L524.08,79.77 L524.08,78.93 L526.11,78.93 L526.11,78.11 L528.15,78.11 L530.20,78.11 L530.20,77.31 L532.07,77.31 L532.07,76.23 L532.07,74.67 L533.63,74.67 L535.42,74.67 L535.42,73.46 L535.42,72.49 L537.40,72.49 L537.40,71.70 L539.45,71.70 L539.45,70.98 L541.53,70.98 L543.61,70.98 L543.61,70.28 L545.79,70.28 L545.79,69.98 L545.79,69.68 L547.97,69.68 L550.14,69.68 L550.14,69.35 L550.14,68.54 L552.19,68.54 L554.24,68.54 L554.24,67.74 L554.24,66.94 L556.29,66.94 L558.33,66.94 L558.33,66.14 L560.42,66.14 L560.42,65.45 L562.53,65.45 L562.53,64.83 L564.65,64.83 L564.65,64.22 L564.65,63.61 L566.76,63.61 L566.76,63.02 L568.88,63.02 L571.03,63.02 L571.03,62.58 L571.03,62.13 L573.19,62.13 L573.19,61.69 L575.34,61.69 L575.34,61.24 L577.50,61.24 L579.66,61.24 L579.66,60.85 L579.66,60.46 L581.83,60.46 L581.83,60.07 L583.99,60.07 L586.16,60.07 L586.16,59.69 L586.16,59.30 L588.32,59.30 L590.49,59.30 L590.49,58.93 L592.67,58.93 L592.67,58.64 L592.67,58.35 L594.85,58.35 L594.85,58.06 L597.04,58.06 L599.22,58.06 L599.22,57.77 L601.40,57.77 L601.40,57.48 L603.58,57.48 L603.58,57.19 L605.76,57.19 L605.76,56.92 L607.95,56.92 L607.95,56.70 L610.14,56.70 L610.14,56.49 L612.33,56.49 L612.33,56.27 L612.33,56.05 L614.52,56.05 L616.71,56.05 L616.71,55.83 L616.71,55.61 L618.90,55.61 L618.90,55.39 L621.08,55.39 L623.27,55.39 L623.27,55.17 L625.46,55.17 L625.46,54.95 L627.65,54.95 L627.65,54.73 L627.65,54.52 L629.84,54.52 L629.84,54.30 L632.03,54.30 L634.22,54.30 L634.22,54.08 L634.22,53.86 L636.41,53.86 L638.60,53.86 L638.60,53.64 L640.78,53.64 L640.78,53.40 L640.78,53.10 L642.96,53.10 L645.14,53.10 L645.14,52.81 L645.14,52.52 L647.33,52.52 L649.51,52.52 L649.51,52.23 L649.51,51.94 L651.69,51.94 L653.87,51.94 L653.87,51.65 L656.05,51.65 L656.05,51.37 L656.05,51.09 L658.23,51.09 L658.23,50.82 L660.41,50.82 L662.60,50.82 L662.60,50.55 L664.78,50.55 L664.78,50.27 L664.78,50.00 L666.96,50.00 L666.96,49.72 L669.15,49.72 L671.33,49.72 L671.33,49.45 L671.33,49.20 L673.30,49.20" fill="none" stroke="#BC3C29" stroke-width="1.6" stroke-linejoin="round"/>
<path d="M438.30,232.00 L438.30,229.40 L438.30,226.80 L438.30,224.20 L438.30,221.60 L438.30,219.00 L438.30,216.40 L438.30,213.80 L438.30,211.20 L438.30,208.60 L438.30,206.00 L438.30,203.40 L438.30,200.80 L438.30,198.20 L438.30,195.60 L438.30,193.00 L438.30,190.40 L438.30,187.80 L438.30,185.20 L438.30,182.60 L439.27,182.60 L439.27,180.77 L439.27,180.18 L441.81,180.18 L442.60,180.18 L442.60,178.21 L442.60,175.61 L442.65,173.02 L442.78,170.42 L442.91,167.82 L443.04,165.23 L443.17,162.63 L444.48,162.63 L444.48,160.50 L444.48,158.52 L446.16,158.52 L446.70,158.52 L446.70,156.08 L446.83,153.49 L446.96,150.89 L446.96,148.41 L447.64,148.41 L447.64,146.00 L448.60,146.00 L448.60,143.64 L449.68,143.64 L450.84,143.64 L450.84,141.31 L450.84,138.98 L452.01,138.98 L453.17,138.98 L453.17,136.66 L453.17,134.33 L454.33,134.33 L454.33,131.95 L455.35,131.95 L455.35,129.46 L456.07,129.46 L456.07,126.88 L456.41,126.88 L456.41,124.30 L456.74,124.30 L457.08,124.30 L457.08,121.72 L457.54,121.72 L457.54,119.17 L457.54,116.62 L458.08,116.62 L458.73,116.62 L458.73,114.12 L459.88,114.12 L459.88,111.79 L461.13,111.79 L461.13,109.54 L463.28,109.54 L463.28,108.09 L465.41,108.09 L465.41,106.59 L465.41,105.02 L467.48,105.02 L469.54,105.02 L469.54,103.44 L470.92,103.44 L470.92,101.23 L472.23,101.23 L472.23,98.99 L472.23,96.62 L473.28,96.62 L474.49,96.62 L474.49,94.33 L476.05,94.33 L476.05,92.25 L477.89,92.25 L477.89,90.41 L479.64,90.41 L479.64,88.49 L481.31,88.49 L481.31,86.50 L482.98,86.50 L482.98,84.51 L482.98,83.29 L485.21,83.29 L487.63,83.29 L487.63,82.35 L489.67,82.35 L489.67,80.77 L491.65,80.77 L491.65,79.08 L493.65,79.08 L493.65,77.43 L495.99,77.43 L495.99,76.29 L498.24,76.29 L498.24,75.01 L500.41,75.01 L500.41,73.56 L502.81,73.56 L502.81,72.66 L505.33,72.66 L505.33,72.01 L507.85,72.01 L507.85,71.37 L510.42,71.37 L510.42,71.04 L510.42,70.83 L513.01,70.83 L513.01,70.62 L515.60,70.62 L515.60,70.32 L518.18,70.32 L518.18,69.92 L520.75,69.92 L520.75,69.53 L523.32,69.53 L523.32,69.13 L525.89,69.13 L525.89,68.74 L528.46,68.74 L531.02,68.74 L531.02,68.30 L533.57,68.30 L533.57,67.79 L536.12,67.79 L536.12,67.28 L538.67,67.28 L538.67,66.77 L538.67,66.26 L541.22,66.26 L541.22,65.75 L543.77,65.75 L543.77,65.24 L546.32,65.24 L548.87,65.24 L548.87,64.73 L548.87,64.22 L551.42,64.22 L553.97,64.22 L553.97,63.71 L553.97,63.20 L556.52,63.20 L559.07,63.20 L559.07,62.69 L561.62,62.69 L561.62,62.18 L564.17,62.18 L564.17,61.67 L564.17,61.16 L566.72,61.16 L569.27,61.16 L569.27,60.65 L569.27,60.23 L571.83,60.23 L574.40,60.23 L574.40,59.84 L574.40,59.45 L576.97,59.45 L576.97,59.07 L579.54,59.07 L582.12,59.07 L582.12,58.68 L582.12,58.30 L584.69,58.30 L584.69,57.91 L587.26,57.91 L589.83,57.91 L589.83,57.53 L592.41,57.53 L592.41,57.20 L592.41,56.88 L594.99,56.88 L594.99,56.55 L597.57,56.55 L600.15,56.55 L600.15,56.23 L600.15,55.91 L602.73,55.91 L602.73,55.59 L605.31,55.59 L605.31,55.26 L607.89,55.26 L610.47,55.26 L610.47,54.93 L610.47,54.54 L613.04,54.54 L613.04,54.16 L615.61,54.16 L615.61,53.77 L618.18,53.77 L620.75,53.77 L620.75,53.39 L623.32,53.39 L623.32,53.00 L623.32,52.62 L625.89,52.62 L628.46,52.62 L628.46,52.23 L628.46,51.91 L631.04,51.91 L633.63,51.91 L633.63,51.69 L633.63,51.47 L636.23,51.47 L638.82,51.47 L638.82,51.25 L641.41,51.25 L641.41,51.03 L644.00,51.03 L644.00,50.81 L644.00,50.59 L646.59,50.59 L646.59,50.37 L649.18,50.37 L649.18,50.22 L651.77,50.22 L654.37,50.09 L656.97,49.97 L659.56,49.85 L662.16,49.73 L664.76,49.60 L667.36,49.48 L669.95,49.36 L672.55,49.24 L673.30,49.20 L673.30,49.50 L672.48,49.50 L672.48,49.67 L669.94,49.67 L669.94,50.18 L667.39,50.18 L667.39,50.70 L667.39,51.22 L664.84,51.22 L664.84,51.73 L662.29,51.73 L662.29,52.25 L659.74,52.25 L659.74,52.79 L657.20,52.79 L654.66,52.79 L654.66,53.32 L654.66,53.86 L652.11,53.86 L649.57,53.86 L649.57,54.40 L647.03,54.40 L647.03,54.95 L647.03,55.51 L644.49,55.51 L644.49,56.07 L641.95,56.07 L641.95,56.62 L639.41,56.62 L636.86,56.62 L636.86,57.15 L636.86,57.68 L634.32,57.68 L631.77,57.68 L631.77,58.21 L631.77,58.73 L629.22,58.73 L626.67,58.73 L626.67,59.23 L626.67,59.73 L624.12,59.73 L621.57,59.73 L621.57,60.23 L621.57,60.94 L619.07,60.94 L619.07,61.69 L616.58,61.69 L614.09,61.69 L614.09,62.44 L614.09,63.16 L611.59,63.16 L611.59,63.66 L609.04,63.66 L606.49,63.66 L606.49,64.16 L603.94,64.16 L603.94,64.66 L601.42,64.66 L601.42,65.29 L601.42,66.05 L598.93,66.05 L596.45,66.05 L596.45,66.80 L596.45,67.56 L593.96,67.56 L591.47,67.56 L591.47,68.31 L591.47,69.06 L588.98,69.06 L586.49,69.06 L586.49,69.81 L586.49,70.58 L584.01,70.58 L584.01,71.55 L581.59,71.55 L581.59,72.52 L579.18,72.52 L579.18,73.49 L576.77,73.49 L576.77,74.22 L574.31,74.22 L571.71,74.31 L569.11,74.40 L566.51,74.48 L563.92,74.63 L561.32,74.63 L561.32,74.79 L558.73,74.79 L558.73,74.95 L558.73,75.23 L556.14,75.23 L553.56,75.23 L553.56,75.55 L550.98,75.55 L550.98,75.88 L550.98,76.66 L548.53,76.66 L548.53,77.73 L546.16,77.73 L543.79,77.73 L543.79,78.79 L543.79,79.86 L541.42,79.86 L541.42,80.75 L538.99,80.75 L538.99,81.38 L536.47,81.38 L533.94,81.38 L533.94,82.01 L531.42,82.01 L531.42,82.64 L528.90,82.64 L528.90,83.28 L526.38,83.28 L526.38,83.91 L526.38,84.54 L523.85,84.54 L521.33,84.54 L521.33,85.17 L518.81,85.17 L518.81,85.80 L516.29,85.80 L516.29,86.43 L513.76,86.43 L513.76,87.06 L511.24,87.06 L511.24,87.69 L509.07,87.69 L509.07,88.93 L507.82,88.93 L507.82,91.08 L507.82,93.64 L507.39,93.64 L506.97,93.64 L506.97,96.21 L506.97,98.77 L506.54,98.77 L506.54,101.33 L506.11,101.33 L506.11,102.32 L504.10,102.32 L504.10,102.74 L501.54,102.74 L498.99,102.74 L498.99,103.25 L496.47,103.25 L496.47,103.88 L496.47,104.53 L493.95,104.53 L493.95,105.91 L491.75,105.91 L489.57,105.91 L489.57,107.32 L487.49,107.32 L487.49,108.88 L485.48,108.88 L485.48,110.52 L485.48,112.36 L483.64,112.36 L483.64,114.20 L481.80,114.20 L479.96,114.20 L479.96,116.04 L478.12,116.04 L478.12,117.88 L478.12,119.46 L476.06,119.46 L476.06,121.02 L473.98,121.02 L473.98,122.86 L472.14,122.86 L470.30,122.86 L470.30,124.70 L470.30,126.61 L468.55,126.61 L466.81,126.61 L466.81,128.55 L466.81,130.63 L465.35,130.63 L464.73,130.63 L464.73,133.15 L464.12,133.15 L464.12,135.68 L464.12,138.20 L463.50,138.20 L463.50,140.73 L462.88,140.73 L462.88,143.26 L462.30,143.26 L461.79,143.26 L461.79,145.81 L461.27,145.81 L461.27,148.36 L461.27,150.91 L460.75,150.91 L460.75,153.46 L460.23,153.46 L460.23,155.91 L459.42,155.91 L459.42,158.31 L458.45,158.31 L458.45,160.88 L458.06,160.88 L457.66,160.88 L457.66,163.45 L457.66,166.00 L457.17,166.00 L457.17,168.54 L456.62,168.54 L456.09,168.54 L456.09,171.09 L455.59,171.09 L455.59,173.64 L454.81,173.64 L454.81,176.11 L454.81,178.54 L453.87,178.54 L452.69,178.54 L452.69,180.84 L451.94,180.84 L451.94,183.25 L451.81,185.85 L451.81,188.44 L451.62,188.44 L451.42,188.44 L451.42,191.03 L451.42,193.63 L451.23,193.63 L450.13,193.63 L450.13,195.95 L450.13,198.11 L448.76,198.11 L448.76,199.44 L446.80,199.44 L446.80,202.04 L446.80,204.64 L446.80,207.24 L446.44,207.24 L446.44,209.76 L446.44,212.12 L445.34,212.12 L444.24,212.12 L444.24,214.48 L444.24,217.00 L443.71,217.00 L443.71,219.57 L443.35,219.57 L442.99,219.57 L442.99,222.15 L442.99,224.74 L442.79,224.74 L442.59,224.74 L442.59,227.33 L442.59,229.93 L442.38,229.93 L442.38,231.37 L440.82,231.37 L438.30,231.37 L438.30,232.00 Z" fill="#169B16" fill-opacity="0.3" stroke="none"/>
<path d="M438.30,284.20 L438.30,282.00 L438.30,279.80 L438.30,277.60 L438.30,275.40 L438.30,273.20 L438.30,271.00 L438.30,268.80 L438.30,266.60 L438.30,264.40 L438.30,262.20 L438.30,260.00 L438.30,257.80 L438.30,255.60 L438.30,253.40 L438.30,251.20 L438.30,249.00 L438.30,246.80 L438.30,244.60 L438.30,242.40 L438.30,240.20 L438.30,238.00 L438.30,235.80 L438.30,233.60 L438.30,231.40 L438.30,229.20 L438.30,227.00 L438.30,224.80 L438.30,222.60 L438.30,220.40 L438.30,218.20 L438.30,216.00 L438.30,213.80 L438.30,211.60 L438.30,209.40 L438.30,207.20 L438.70,207.20 L438.70,205.40 L440.90,205.40 L441.04,203.20 L441.18,201.01 L441.32,198.81 L441.46,196.62 L441.70,196.62 L441.70,194.43 L441.97,194.43 L441.97,192.25 L442.24,192.25 L442.24,190.07 L442.56,190.07 L442.56,187.90 L443.67,187.90 L443.67,186.00 L443.67,184.09 L444.77,184.09 L444.77,182.18 L445.86,182.18 L446.74,182.18 L446.74,180.17 L447.37,180.17 L447.37,178.07 L447.81,178.07 L447.81,175.92 L447.81,173.74 L448.13,173.74 L448.13,171.55 L448.34,171.55 L448.34,169.37 L448.63,169.37 L449.10,169.37 L449.10,167.22 L449.56,167.22 L449.56,165.07 L449.56,162.97 L450.16,162.97 L450.16,161.00 L451.15,161.00 L451.15,159.04 L452.13,159.04 L453.31,159.04 L453.31,157.18 L454.22,157.18 L454.22,155.21 L454.22,153.07 L454.76,153.07 L455.29,153.07 L455.29,150.94 L455.29,148.87 L456.02,148.87 L456.80,148.87 L456.80,146.81 L456.80,144.69 L457.38,144.69 L457.38,142.57 L457.97,142.57 L458.56,142.57 L458.56,140.45 L458.56,138.29 L458.98,138.29 L458.98,136.13 L459.39,136.13 L459.83,136.13 L459.83,133.97 L460.31,133.97 L460.31,131.83 L460.31,129.80 L461.11,129.80 L462.11,129.80 L462.11,127.84 L463.11,127.84 L463.11,125.87 L464.07,125.87 L464.07,123.90 L464.07,121.92 L465.05,121.92 L466.06,121.92 L466.06,119.97 L467.37,119.97 L467.37,118.20 L468.54,118.20 L468.54,116.35 L469.59,116.35 L469.59,114.41 L469.59,112.44 L470.56,112.44 L470.56,110.47 L471.53,110.47 L471.53,108.50 L472.52,108.50 L472.52,106.58 L473.60,106.58 L473.60,104.80 L474.86,104.80 L474.86,103.52 L476.54,103.52 L478.71,103.52 L478.71,103.18 L478.71,101.85 L480.36,101.85 L481.87,101.85 L481.87,100.25 L481.87,98.64 L483.37,98.64 L483.37,97.69 L485.34,97.69 L487.35,97.69 L487.35,96.80 L487.35,95.85 L489.34,95.85 L489.34,94.89 L491.31,94.89 L491.31,93.25 L492.75,93.25 L494.12,93.25 L494.12,91.53 L494.12,89.74 L495.40,89.74 L496.74,89.74 L496.74,88.00 L496.74,86.62 L498.45,86.62 L500.34,86.62 L500.34,85.55 L502.39,85.55 L502.39,84.75 L502.39,84.06 L504.47,84.06 L506.62,84.06 L506.62,83.60 L506.62,83.10 L508.76,83.10 L510.81,83.10 L510.81,82.30 L510.81,81.49 L512.86,81.49 L512.86,80.66 L514.89,80.66 L514.89,79.82 L516.93,79.82 L519.04,79.82 L519.04,79.24 L519.04,78.82 L521.20,78.82 L523.36,78.82 L523.36,78.39 L525.52,78.39 L525.52,77.97 L527.68,77.97 L527.68,77.55 L527.68,77.13 L529.83,77.13 L529.83,76.61 L531.97,76.61 L534.01,76.61 L534.01,75.79 L536.05,75.79 L536.05,74.96 L536.05,74.16 L538.09,74.16 L540.14,74.16 L540.14,73.36 L542.27,73.36 L542.27,72.81 L544.43,72.81 L544.43,72.39 L546.60,72.28 L548.80,72.42 L550.99,72.35 L550.99,72.03 L553.16,72.03 L555.34,72.03 L555.34,71.71 L555.34,71.37 L557.51,71.37 L557.51,70.82 L559.64,70.82 L561.77,70.82 L561.77,70.28 L563.90,70.28 L563.90,69.73 L563.90,69.35 L566.07,69.35 L568.25,69.35 L568.25,69.08 L570.43,69.08 L570.43,68.81 L570.43,68.55 L572.62,68.55 L572.62,68.28 L574.80,68.28 L574.80,68.01 L576.99,68.01 L576.99,67.74 L579.17,67.74 L579.17,66.87 L581.17,66.87 L583.14,66.87 L583.14,65.88 L585.10,65.88 L585.10,64.90 L585.10,63.95 L587.09,63.95 L587.09,63.43 L589.22,63.43 L591.36,63.43 L591.36,62.91 L593.50,62.91 L593.50,62.39 L593.50,61.86 L595.63,61.86 L595.63,61.31 L597.76,61.31 L599.90,61.31 L599.90,60.76 L602.03,60.76 L602.03,60.23 L602.03,59.76 L604.18,59.76 L604.18,59.30 L606.33,59.30 L606.33,58.83 L608.48,58.83 L610.57,58.83 L610.57,58.20 L610.57,57.19 L612.53,57.19 L612.53,56.18 L614.48,56.18 L616.51,56.18 L616.51,55.39 L616.51,55.04 L618.68,55.04 L620.85,55.04 L620.85,54.70 L623.02,54.70 L623.02,54.35 L625.20,54.35 L625.20,54.01 L627.37,54.01 L627.37,53.67 L627.37,53.35 L629.55,53.35 L629.55,53.03 L631.72,53.03 L631.72,52.70 L633.90,52.70 L636.08,52.70 L636.08,52.38 L636.08,52.06 L638.25,52.06 L638.25,51.74 L640.43,51.74 L642.60,51.74 L642.60,51.41 L644.78,51.41 L644.78,51.09 L646.96,51.09 L646.96,50.77 L646.96,50.49 L649.14,50.49 L649.14,50.27 L651.33,50.27 L653.52,50.27 L653.52,50.04 L653.52,49.82 L655.70,49.82 L655.70,49.59 L657.89,49.59 L657.89,49.43 L660.09,49.43 L662.28,49.31 L664.48,49.20 L666.68,49.20 L668.88,49.20 L671.08,49.20 L673.28,49.20 L673.30,49.20" fill="none" stroke="#0072B5" stroke-width="1.6" stroke-linejoin="round"/>
<path d="M438.30,243.00 L438.30,240.40 L438.30,237.80 L438.30,235.20 L438.30,232.60 L438.30,230.00 L438.30,227.40 L438.30,224.80 L438.30,222.20 L438.30,219.60 L438.30,217.00 L438.30,214.40 L438.30,211.80 L438.30,209.20 L438.30,206.60 L438.30,204.00 L438.30,201.40 L438.30,198.80 L438.30,196.20 L438.30,193.60 L438.30,191.00 L438.30,188.40 L438.30,185.80 L438.30,183.20 L438.30,180.90 L438.69,180.90 L441.21,180.90 L441.21,180.27 L442.34,180.27 L442.34,178.52 L442.42,175.92 L442.50,173.33 L442.58,170.73 L442.67,168.13 L442.78,165.53 L442.88,162.93 L442.99,160.34 L443.09,157.74 L443.19,155.14 L443.30,152.54 L443.41,149.94 L443.81,149.94 L443.81,147.38 L443.81,144.81 L444.21,144.81 L444.21,142.24 L444.61,142.24 L444.61,139.69 L445.11,139.69 L445.62,139.69 L445.62,137.14 L446.16,137.14 L446.16,134.59 L446.16,132.06 L446.74,132.06 L447.31,132.06 L447.31,129.52 L447.89,129.52 L447.89,126.99 L448.47,126.99 L448.47,124.45 L448.47,121.98 L449.25,121.98 L449.25,119.60 L450.29,119.60 L450.29,117.25 L451.39,117.25 L452.61,117.25 L452.61,114.95 L453.82,114.95 L453.82,112.65 L455.03,112.65 L455.03,110.35 L455.03,108.09 L456.30,108.09 L456.30,106.00 L457.85,106.00 L457.85,103.91 L459.40,103.91 L459.40,102.58 L461.58,102.58 L461.58,101.44 L463.91,101.44 L463.91,100.27 L466.24,100.27 L466.24,99.08 L468.55,99.08 L468.55,97.51 L470.59,97.51 L470.59,95.68 L472.42,95.68 L474.28,95.68 L474.28,93.86 L474.28,92.18 L476.25,92.18 L478.50,92.18 L478.50,90.87 L478.50,89.51 L480.71,89.51 L480.71,88.01 L482.84,88.01 L482.84,86.52 L484.97,86.52 L487.15,86.52 L487.15,85.12 L489.34,85.12 L489.34,83.71 L491.53,83.71 L491.53,82.30 L493.87,82.30 L493.87,81.18 L496.25,81.18 L496.25,80.14 L496.25,79.10 L498.63,79.10 L498.63,78.18 L501.06,78.18 L503.55,78.18 L503.55,77.44 L506.04,77.44 L506.04,76.69 L508.53,76.69 L508.53,75.94 L511.03,75.94 L511.03,75.24 L513.56,75.24 L513.56,74.61 L516.08,74.61 L516.08,73.98 L518.60,73.98 L518.60,73.35 L521.12,73.35 L521.12,72.72 L523.65,72.72 L523.65,72.09 L523.65,71.46 L526.17,71.46 L528.69,71.46 L528.69,70.83 L531.21,70.83 L531.21,70.20 L533.73,70.20 L533.73,69.57 L533.73,68.94 L536.26,68.94 L536.26,68.31 L538.78,68.31 L541.30,68.31 L541.30,67.67 L543.82,67.67 L543.82,67.04 L543.82,66.41 L546.35,66.41 L546.35,65.78 L548.87,65.78 L551.39,65.78 L551.39,65.15 L553.91,65.15 L553.91,64.52 L556.44,64.52 L556.44,63.89 L558.96,63.89 L558.96,63.26 L558.96,62.63 L561.48,62.63 L561.48,62.00 L564.00,62.00 L566.53,62.00 L566.53,61.37 L569.05,61.37 L569.05,60.74 L571.60,60.74 L571.60,60.26 L571.60,59.87 L574.17,59.87 L574.17,59.49 L576.74,59.49 L579.31,59.49 L579.31,59.10 L581.89,59.10 L581.89,58.72 L584.46,58.72 L584.46,58.33 L587.03,58.33 L587.03,57.95 L589.60,57.95 L589.60,57.56 L592.17,57.56 L592.17,57.17 L594.74,57.17 L594.74,56.79 L597.31,56.79 L597.31,56.40 L599.88,56.40 L599.88,56.02 L599.88,55.63 L602.46,55.63 L602.46,55.25 L605.03,55.25 L605.03,54.86 L607.60,54.86 L610.17,54.86 L610.17,54.47 L612.74,54.47 L612.74,54.09 L615.31,54.09 L615.31,53.70 L615.31,53.32 L617.88,53.32 L617.88,52.95 L620.46,52.95 L620.46,52.70 L623.04,52.70 L623.04,52.44 L625.63,52.44 L625.63,52.18 L628.22,52.18 L628.22,51.92 L630.81,51.92 L630.81,51.66 L633.39,51.66 L633.39,51.42 L635.98,51.42 L638.57,51.42 L638.57,51.21 L638.57,51.01 L641.16,51.01 L641.16,50.80 L643.76,50.80 L646.35,50.80 L646.35,50.59 L648.94,50.59 L648.94,50.38 L651.53,50.38 L651.53,50.23 L654.13,50.10 L656.73,49.98 L659.33,49.86 L661.92,49.74 L664.52,49.61 L667.12,49.49 L669.71,49.37 L672.31,49.25 L673.30,49.20 L673.30,49.50 L673.04,49.58 L670.55,49.58 L670.55,50.32 L670.55,50.92 L668.03,50.92 L668.03,51.44 L665.48,51.44 L665.48,51.96 L662.93,51.96 L662.93,52.48 L660.38,52.48 L660.38,52.99 L657.83,52.99 L655.28,52.99 L655.28,53.49 L652.73,53.49 L652.73,53.99 L650.18,53.99 L650.18,54.49 L647.63,54.49 L647.63,55.00 L645.08,55.00 L645.08,55.52 L642.53,55.52 L642.53,56.03 L639.99,56.03 L639.99,56.55 L637.44,56.55 L637.44,57.07 L634.87,57.07 L634.87,57.46 L634.87,57.84 L632.30,57.84 L632.30,58.22 L629.72,58.22 L629.72,58.60 L627.15,58.60 L627.15,59.07 L624.59,59.07 L622.04,59.07 L622.04,59.57 L622.04,60.08 L619.49,60.08 L616.94,60.08 L616.94,60.58 L616.94,61.33 L614.46,61.33 L612.05,61.33 L612.05,62.29 L612.05,63.18 L609.61,63.18 L609.61,63.69 L607.06,63.69 L604.51,63.69 L604.51,64.18 L601.94,64.18 L601.94,64.57 L599.38,64.57 L599.38,65.03 L596.89,65.03 L596.89,65.78 L596.89,66.54 L594.41,66.54 L594.41,67.30 L591.92,67.30 L589.43,67.30 L589.43,68.06 L586.94,68.06 L586.94,68.81 L586.94,69.57 L584.46,69.57 L581.97,69.57 L581.97,70.33 L579.52,70.33 L579.52,71.19 L579.52,72.08 L577.07,72.08 L577.07,72.97 L574.63,72.97 L572.10,72.97 L572.10,73.54 L569.55,73.54 L569.55,74.01 L569.55,74.67 L567.04,74.67 L567.04,75.47 L564.56,75.47 L562.17,75.47 L562.17,76.45 L559.97,76.45 L559.97,77.82 L557.76,77.82 L557.76,79.20 L555.55,79.20 L555.55,80.57 L553.17,80.57 L553.17,81.62 L550.79,81.62 L550.79,82.66 L548.32,82.66 L548.32,83.44 L548.32,84.10 L545.80,84.10 L545.80,84.82 L543.30,84.82 L543.30,85.55 L540.81,85.55 L540.81,86.28 L538.31,86.28 L538.31,87.05 L535.83,87.05 L535.83,88.01 L533.41,88.01 L531.00,88.01 L531.00,88.97 L531.00,89.93 L528.58,89.93 L528.58,90.89 L526.17,90.89 L526.17,91.86 L523.75,91.86 L521.34,91.86 L521.34,92.84 L521.34,93.81 L518.93,93.81 L516.50,93.81 L516.50,94.73 L514.06,94.73 L514.06,95.62 L514.06,96.32 L511.56,96.32 L509.02,96.32 L509.02,96.88 L506.61,96.88 L506.61,97.84 L506.61,98.90 L504.24,98.90 L502.01,98.90 L502.01,100.24 L502.01,101.62 L499.81,101.62 L497.71,101.62 L497.71,103.15 L497.71,104.73 L495.65,104.73 L493.63,104.73 L493.63,106.37 L491.79,106.37 L491.79,108.21 L491.79,110.04 L489.95,110.04 L489.95,111.75 L488.00,111.75 L488.00,113.47 L486.04,113.47 L484.08,113.47 L484.08,115.18 L484.08,116.89 L482.13,116.89 L480.05,116.89 L480.05,118.46 L477.98,118.46 L477.98,120.02 L477.98,121.86 L476.14,121.86 L474.30,121.86 L474.30,123.70 L472.57,123.70 L472.57,125.64 L470.85,125.64 L470.85,127.59 L469.32,127.59 L469.32,129.69 L469.32,131.82 L467.83,131.82 L466.34,131.82 L466.34,133.95 L466.34,136.08 L464.84,136.08 L464.84,138.24 L463.40,138.24 L462.40,138.24 L462.40,140.64 L462.40,143.04 L461.40,143.04 L461.40,145.44 L460.40,145.44 L459.40,145.44 L459.40,147.84 L458.39,147.84 L458.39,150.23 L457.22,150.23 L457.22,152.55 L456.06,152.55 L456.06,154.88 L454.90,154.88 L454.90,157.20 L453.73,157.20 L453.73,159.53 L453.73,161.93 L452.73,161.93 L451.76,161.93 L451.76,164.34 L450.86,164.34 L450.86,166.78 L449.99,166.78 L449.99,169.23 L449.12,169.23 L449.12,171.68 L449.12,174.20 L448.49,174.20 L448.49,176.73 L447.90,176.73 L447.47,176.73 L447.47,179.29 L447.47,181.88 L447.21,181.88 L447.08,184.47 L446.95,187.07 L446.82,189.67 L446.80,192.27 L446.80,194.87 L446.80,197.47 L446.80,200.07 L446.80,202.67 L446.80,205.27 L446.80,207.87 L445.38,207.87 L445.38,209.37 L442.99,209.37 L442.99,210.14 L442.99,212.72 L442.73,212.72 L442.73,215.31 L442.50,215.31 L442.47,217.91 L442.44,220.51 L442.41,223.11 L442.38,225.71 L442.36,228.31 L442.33,230.91 L442.30,233.51 L442.22,236.11 L442.13,238.71 L442.05,241.31 L442.05,242.86 L440.90,242.86 L438.30,243.00 Z" fill="#3C6ED2" fill-opacity="0.3" stroke="none"/>
<path d="M438.30,284.20 L438.30,282.00 L438.30,279.80 L438.30,277.60 L438.30,275.40 L438.30,273.20 L438.30,271.00 L438.30,268.80 L438.30,266.60 L438.30,264.40 L438.30,262.20 L438.30,260.00 L438.30,257.80 L438.30,255.60 L438.30,253.40 L438.30,251.20 L438.30,249.00 L438.30,246.80 L438.30,244.60 L438.30,242.40 L438.30,240.20 L438.30,238.00 L438.30,235.80 L438.30,233.60 L438.30,231.40 L438.30,229.20 L438.30,227.00 L438.30,224.80 L438.30,222.60 L438.30,220.40 L438.30,218.20 L438.30,216.00 L438.30,213.80 L438.30,211.80 L438.50,211.80 L440.70,211.80 L440.70,211.30 L442.40,211.30 L442.40,209.10 L442.40,206.90 L442.40,204.70 L442.40,202.50 L442.40,200.30 L442.42,198.10 L442.44,195.90 L442.46,193.70 L442.48,191.50 L442.51,189.30 L442.53,187.10 L442.55,184.90 L442.57,182.70 L442.59,180.50 L443.70,180.50 L443.70,179.37 L445.90,179.31 L445.90,177.51 L446.43,177.51 L446.58,177.51 L446.58,175.31 L446.68,173.11 L446.78,170.92 L446.87,168.72 L446.93,166.52 L446.98,164.32 L447.03,162.12 L447.08,159.92 L447.13,157.72 L447.17,155.52 L447.22,153.32 L447.27,151.12 L447.27,148.94 L447.43,148.94 L447.43,146.78 L447.85,146.78 L448.73,146.78 L448.73,144.79 L448.73,142.91 L449.87,142.91 L449.87,140.98 L450.91,140.98 L450.91,139.01 L451.90,139.01 L451.90,137.04 L452.88,137.04 L452.88,135.07 L453.86,135.07 L454.85,135.07 L454.85,133.11 L454.85,131.37 L456.19,131.37 L456.19,129.66 L457.56,129.66 L458.43,129.66 L458.43,127.64 L459.29,127.64 L459.29,125.62 L460.25,125.62 L460.25,123.64 L460.25,121.78 L461.43,121.78 L462.84,121.78 L462.84,120.11 L462.84,118.55 L464.39,118.55 L466.15,118.55 L466.15,117.22 L466.15,116.05 L468.01,116.05 L468.01,114.89 L469.86,114.89 L469.86,113.46 L471.54,113.46 L471.54,111.81 L472.99,111.81 L474.43,111.81 L474.43,110.15 L474.43,108.46 L475.84,108.46 L477.34,108.46 L477.34,106.86 L479.08,106.86 L479.08,105.51 L479.08,103.97 L480.62,103.97 L481.98,103.97 L481.98,102.25 L481.98,100.77 L483.61,100.77 L483.61,99.54 L485.38,99.54 L485.38,98.95 L487.49,98.95 L489.57,98.95 L489.57,98.26 L489.57,97.25 L491.53,97.25 L491.53,96.18 L493.45,96.18 L495.29,96.18 L495.29,94.98 L495.29,93.79 L497.15,93.79 L497.15,92.62 L499.01,92.62 L500.89,92.62 L500.89,91.47 L502.76,91.47 L502.76,90.33 L502.76,89.09 L504.58,89.09 L506.30,89.09 L506.30,87.73 L508.03,87.73 L508.03,86.37 L510.00,86.37 L510.00,85.41 L512.04,85.41 L512.04,84.61 L512.04,83.97 L514.14,83.97 L516.29,83.97 L516.29,83.51 L516.29,83.05 L518.44,83.05 L518.44,82.63 L520.60,82.63 L522.76,82.63 L522.76,82.21 L522.76,81.79 L524.92,81.79 L524.92,81.36 L527.08,81.36 L527.08,80.94 L529.24,80.94 L531.40,80.94 L531.40,80.52 L533.55,80.52 L533.55,80.06 L535.70,80.06 L535.70,79.61 L537.86,79.61 L537.86,79.18 L537.86,78.75 L540.02,78.75 L541.89,78.75 L541.89,77.72 L543.61,77.72 L543.61,76.34 L545.32,76.34 L545.32,74.96 L545.32,74.10 L547.34,74.10 L549.38,74.10 L549.38,73.26 L551.38,73.26 L551.38,72.35 L551.38,71.41 L553.37,71.41 L555.36,71.41 L555.36,70.47 L555.36,69.53 L557.34,69.53 L559.41,69.53 L559.41,68.77 L561.48,68.77 L561.48,68.01 L563.54,68.01 L563.54,67.26 L565.65,67.26 L565.65,66.68 L565.65,66.39 L567.83,66.39 L567.83,66.10 L570.01,66.10 L572.19,66.10 L572.19,65.80 L572.19,65.27 L574.33,65.27 L574.33,64.75 L576.47,64.75 L576.47,64.22 L578.60,64.22 L578.60,63.55 L580.69,63.55 L580.69,62.77 L582.75,62.77 L584.81,62.77 L584.81,61.99 L584.81,61.21 L586.87,61.21 L586.87,60.69 L589.00,60.69 L589.00,60.17 L591.14,60.17 L593.28,60.17 L593.28,59.65 L593.28,59.26 L595.44,59.26 L595.44,59.00 L597.62,59.00 L599.81,59.00 L599.81,58.73 L601.99,58.73 L601.99,58.47 L604.18,58.47 L604.18,58.21 L606.36,58.21 L606.36,57.93 L606.36,57.49 L608.51,57.49 L608.51,57.07 L610.67,57.07 L610.67,56.83 L612.86,56.83 L615.04,56.83 L615.04,56.58 L617.23,56.58 L617.23,56.37 L617.23,56.16 L619.42,56.16 L619.42,55.96 L621.61,55.96 L621.61,55.75 L623.81,55.75 L623.81,55.55 L626.00,55.55 L626.00,55.31 L628.18,55.31 L630.37,55.31 L630.37,55.07 L630.37,54.84 L632.56,54.84 L632.56,54.64 L634.75,54.64 L634.75,54.43 L636.94,54.43 L636.94,54.20 L639.13,54.20 L641.31,54.20 L641.31,53.95 L643.49,53.95 L643.49,53.65 L645.65,53.65 L645.65,53.25 L647.82,53.25 L647.82,52.85 L649.97,52.85 L649.97,52.42 L652.13,52.42 L652.13,51.98 L652.13,51.58 L654.29,51.58 L656.47,51.58 L656.47,51.25 L658.64,51.25 L658.64,50.92 L660.82,50.92 L660.82,50.60 L663.00,50.60 L663.00,50.28 L663.00,49.96 L665.17,49.96 L665.17,49.63 L667.35,49.63 L667.35,49.31 L669.52,49.31 L671.72,49.24 L673.30,49.20" fill="none" stroke="#E18727" stroke-width="1.6" stroke-linejoin="round"/>
<rect x="426.9" y="37.7" width="257.00" height="257.80" fill="none" stroke="#3a3a3a" stroke-width="1.1"/>
<line x1="423.50" y1="284.20" x2="426.9" y2="284.20" stroke="#333333" stroke-width="1.1"/>
<text x="420.90" y="287.80" text-anchor="end" class="tk">0.00</text>
<line x1="438.30" y1="295.5" x2="438.30" y2="298.90" stroke="#333333" stroke-width="1.1"/>
<text x="438.30" y="308.9" text-anchor="middle" class="tk">0.00</text>
<line x1="423.50" y1="225.45" x2="426.9" y2="225.45" stroke="#333333" stroke-width="1.1"/>
<text x="420.90" y="229.05" text-anchor="end" class="tk">0.25</text>
<line x1="497.05" y1="295.5" x2="497.05" y2="298.90" stroke="#333333" stroke-width="1.1"/>
<text x="497.05" y="308.9" text-anchor="middle" class="tk">0.25</text>
<line x1="423.50" y1="166.70" x2="426.9" y2="166.70" stroke="#333333" stroke-width="1.1"/>
<text x="420.90" y="170.30" text-anchor="end" class="tk">0.50</text>
<line x1="555.80" y1="295.5" x2="555.80" y2="298.90" stroke="#333333" stroke-width="1.1"/>
<text x="555.80" y="308.9" text-anchor="middle" class="tk">0.50</text>
<line x1="423.50" y1="107.95" x2="426.9" y2="107.95" stroke="#333333" stroke-width="1.1"/>
<text x="420.90" y="111.55" text-anchor="end" class="tk">0.75</text>
<line x1="614.55" y1="295.5" x2="614.55" y2="298.90" stroke="#333333" stroke-width="1.1"/>
<text x="614.55" y="308.9" text-anchor="middle" class="tk">0.75</text>
<line x1="423.50" y1="49.20" x2="426.9" y2="49.20" stroke="#333333" stroke-width="1.1"/>
<text x="420.90" y="52.80" text-anchor="end" class="tk">1.00</text>
<line x1="673.30" y1="295.5" x2="673.30" y2="298.90" stroke="#333333" stroke-width="1.1"/>
<text x="673.30" y="308.9" text-anchor="middle" class="tk">1.00</text>
<text x="427.20" y="28.5" class="ti">ROC curve in SYSU cohort</text>
<text transform="translate(396.60,166.3) rotate(-90)" text-anchor="middle" class="al">Sensitivity</text>
<text x="556.20" y="322.3" text-anchor="middle" class="al">1−Specificity</text>
<line x1="532.40" y1="202.10" x2="544.30" y2="202.10" stroke="#BC3C29" stroke-width="1.4"/>
<text x="555.90" y="206.50" class="lg" fill="#BC3C29" stroke="#BC3C29">Xgboost AUC = 0.86</text>
<line x1="532.40" y1="213.75" x2="544.30" y2="213.75" stroke="#0072B5" stroke-width="1.4"/>
<text x="555.90" y="218.15" class="lg" fill="#0072B5" stroke="#0072B5">LightGBM AUC = 0.87</text>
<line x1="532.40" y1="225.40" x2="544.30" y2="225.40" stroke="#E18727" stroke-width="1.4"/>
<text x="555.90" y="229.80" class="lg" fill="#E18727" stroke="#E18727">Ranger AUC = 0.86</text>
<text transform="translate(-0.3,9.0) scale(1.02,1.12)" class="pl">A</text>
<text transform="translate(367.9,9.0) scale(0.92,1.12)" class="pl">B</text>
</svg>
</body></html>
